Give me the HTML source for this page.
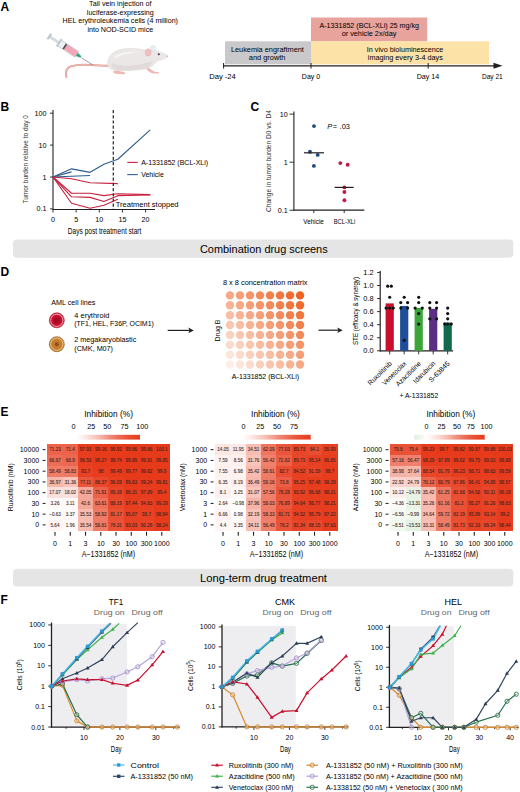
<!DOCTYPE html>
<html><head><meta charset="utf-8"><style>
html,body{margin:0;padding:0;background:#fff;}
svg{display:block;font-family:"Liberation Sans", sans-serif;}
</style></head><body>
<svg width="520" height="792" viewBox="0 0 520 792">
<rect x="0" y="0" width="520" height="792" fill="#fff"/>
<text x="0.40" y="10.50" font-size="12" font-weight="bold" fill="#000" >A</text>
<text x="120.30" y="6.20" font-size="6.8" text-anchor="middle" textLength="62.40" lengthAdjust="spacingAndGlyphs" >Tail vein injection of</text>
<text x="120.30" y="14.70" font-size="6.8" text-anchor="middle" textLength="66.90" lengthAdjust="spacingAndGlyphs" >luciferase-expressing</text>
<text x="120.30" y="23.20" font-size="6.8" text-anchor="middle" textLength="115.40" lengthAdjust="spacingAndGlyphs" >HEL erythroleukemia cells (4 million)</text>
<text x="120.30" y="31.70" font-size="6.8" text-anchor="middle" textLength="65.80" lengthAdjust="spacingAndGlyphs" >into NOD-SCID mice</text>
<g>
<path d="M109,65.6 C100,66.2 92,64.6 84,64.8 C76,65 71,65.6 68.5,67.6 C66,69.8 65.6,73.5 66.4,77" fill="none" stroke="#d99a93" stroke-width="2.1" stroke-linecap="round"/>
<path d="M109,65.6 C100,66.2 92,64.6 84,64.8 C76,65 71,65.6 68.5,67.6 C66,69.8 65.6,73.5 66.4,77" fill="none" stroke="#f0beb6" stroke-width="1.1" stroke-linecap="round"/>
<line x1="81.5" y1="57.8" x2="92.6" y2="64.8" stroke="#55606a" stroke-width="0.6"/>
<g transform="translate(49.4 36.5) rotate(33)">
<rect x="-0.8" y="-3" width="1.6" height="6" fill="#cfd6dc" stroke="#9aa4ad" stroke-width="0.4"/>
<rect x="0" y="-0.9" width="12" height="1.8" fill="#dfe4e8" stroke="#9aa4ad" stroke-width="0.4"/>
<rect x="11" y="-4.2" width="1.4" height="8.4" fill="#cfd6dc" stroke="#9aa4ad" stroke-width="0.4"/>
<rect x="12.2" y="-3.4" width="20.5" height="6.8" fill="#eef1f4" stroke="#a5aeb6" stroke-width="0.5"/>
<rect x="19" y="-3.0" width="13.5" height="6.0" fill="#f2a6b6"/>
<rect x="17.6" y="-3.0" width="1.6" height="6.0" fill="#4a4a55"/>
<path d="M32.7,-2 L37.5,-0.9 L37.5,0.9 L32.7,2 Z" fill="#2fa882"/>
</g>
<path d="M108,66 C106.5,59 111,52.5 119,50 C126,48 134,48.2 140,49.2 C143,49.7 145,50 147,50 C152,49.6 158,50.8 163,53.2 C165.6,54.4 167.6,55.4 167.8,56.3 C166.2,58.6 161.5,60 157.5,60.6 C155.5,63 153.5,65.6 150.5,67 L145,69 C138,70.2 128,70.8 118,70.4 C112,70 109,68.4 108,66 Z" fill="#ebe7e6" stroke="#d9d2d1" stroke-width="0.5"/>
<path d="M112,63 C118,66.5 132,66.5 142,64 C146,63 150,62 153,61 C152,64 150,66.5 147,68 C138,70 126,70.6 118,70.2 C113,69.6 110.5,67 112,63 Z" fill="#e0dadb"/>
<path d="M114,56 C120,52 132,51 140,52 C132,53 122,54 116,58 Z" fill="#f6f4f4"/>
<ellipse cx="153" cy="48.4" rx="2.6" ry="2.9" fill="#e4eef3" stroke="#c9dce6" stroke-width="0.4"/>
<ellipse cx="148.2" cy="52.4" rx="2.9" ry="3.6" fill="#f1c1c1" stroke="#e2a8a8" stroke-width="0.5"/>
<circle cx="158.8" cy="54.3" r="1.05" fill="#5a2a3a"/>
<circle cx="167.4" cy="56.2" r="0.7" fill="#e0a0a0"/>
<path d="M113.5,71 C116,70.5 121,71 124.5,72.4 C126,73.2 125,74.3 123,74.2 L116,73.8 C113.5,73.6 112.6,72 113.5,71 Z" fill="#efb8b0"/>
<path d="M147.5,67.5 C150,68.5 152.5,70.5 154.5,71.8 L158.8,72.2 C159.5,72.8 159,73.6 158,73.6 L153,73.6 C150.5,72.8 148,71 146.5,69.5 Z" fill="#efb8b0"/>
</g>
<rect x="225.00" y="41.30" width="86.00" height="23.00" fill="#c9c9cc" />
<rect x="311.00" y="17.50" width="116.20" height="23.80" fill="#e8a39c" />
<rect x="311.00" y="41.30" width="178.00" height="23.00" fill="#fde2a8" />
<text x="369.20" y="27.50" font-size="7.8" text-anchor="middle" textLength="99.60" lengthAdjust="spacingAndGlyphs" >A-1331852 (BCL-XLi) 25 mg/kg</text>
<text x="369.00" y="36.10" font-size="7.8" text-anchor="middle" textLength="54.70" lengthAdjust="spacingAndGlyphs" >or vehicle 2x/day</text>
<text x="267.40" y="51.70" font-size="7.8" text-anchor="middle" textLength="73.00" lengthAdjust="spacingAndGlyphs" >Leukemia engraftment</text>
<text x="267.10" y="59.60" font-size="7.8" text-anchor="middle" textLength="36.60" lengthAdjust="spacingAndGlyphs" >and growth</text>
<text x="405.10" y="51.80" font-size="7.8" text-anchor="middle" textLength="76.50" lengthAdjust="spacingAndGlyphs" >In vivo bioluminescence</text>
<text x="405.30" y="60.30" font-size="7.8" text-anchor="middle" textLength="75.00" lengthAdjust="spacingAndGlyphs" >imaging every 3-4 days</text>
<line x1="223.00" y1="65.80" x2="496.00" y2="65.80" stroke="#231f20" stroke-width="1.2" />
<path d="M493.5,62.8 L502.5,65.8 L493.5,68.8 Z" fill="#231f20"/>
<line x1="223.60" y1="63.00" x2="223.60" y2="68.60" stroke="#231f20" stroke-width="1" />
<line x1="311.00" y1="63.00" x2="311.00" y2="68.60" stroke="#231f20" stroke-width="1" />
<line x1="428.20" y1="63.00" x2="428.20" y2="68.60" stroke="#231f20" stroke-width="1" />
<text x="222.50" y="78.60" font-size="7.3" text-anchor="middle" textLength="26.50" lengthAdjust="spacingAndGlyphs" >Day -24</text>
<text x="311.00" y="78.60" font-size="7.3" text-anchor="middle" textLength="18.40" lengthAdjust="spacingAndGlyphs" >Day 0</text>
<text x="428.00" y="78.60" font-size="7.3" text-anchor="middle" textLength="22.60" lengthAdjust="spacingAndGlyphs" >Day 14</text>
<text x="492.30" y="78.60" font-size="7.3" text-anchor="middle" textLength="20.80" lengthAdjust="spacingAndGlyphs" >Day 21</text>
<text x="0.60" y="110.90" font-size="12" font-weight="bold" fill="#000" >B</text>
<line x1="53.00" y1="110.00" x2="53.00" y2="209.70" stroke="#231f20" stroke-width="1.1" />
<line x1="52.50" y1="209.50" x2="155.00" y2="209.50" stroke="#231f20" stroke-width="1.1" />
<line x1="50.00" y1="113.20" x2="53.00" y2="113.20" stroke="#231f20" stroke-width="0.9" />
<text x="46.40" y="115.70" font-size="7.2" text-anchor="end" >100</text>
<line x1="50.00" y1="145.10" x2="53.00" y2="145.10" stroke="#231f20" stroke-width="0.9" />
<text x="46.40" y="147.60" font-size="7.2" text-anchor="end" >10</text>
<line x1="50.00" y1="177.00" x2="53.00" y2="177.00" stroke="#231f20" stroke-width="0.9" />
<text x="46.40" y="179.50" font-size="7.2" text-anchor="end" >1</text>
<line x1="50.00" y1="208.90" x2="53.00" y2="208.90" stroke="#231f20" stroke-width="0.9" />
<text x="46.40" y="211.40" font-size="7.2" text-anchor="end" >0.1</text>
<line x1="53.00" y1="209.50" x2="53.00" y2="212.50" stroke="#231f20" stroke-width="0.9" />
<text x="53.00" y="221.60" font-size="7.2" text-anchor="middle" >0</text>
<line x1="76.15" y1="209.50" x2="76.15" y2="212.50" stroke="#231f20" stroke-width="0.9" />
<text x="76.15" y="221.60" font-size="7.2" text-anchor="middle" >5</text>
<line x1="99.30" y1="209.50" x2="99.30" y2="212.50" stroke="#231f20" stroke-width="0.9" />
<text x="99.30" y="221.60" font-size="7.2" text-anchor="middle" >10</text>
<line x1="122.45" y1="209.50" x2="122.45" y2="212.50" stroke="#231f20" stroke-width="0.9" />
<text x="122.45" y="221.60" font-size="7.2" text-anchor="middle" >15</text>
<line x1="145.60" y1="209.50" x2="145.60" y2="212.50" stroke="#231f20" stroke-width="0.9" />
<text x="145.60" y="221.60" font-size="7.2" text-anchor="middle" >20</text>
<text x="104.60" y="234.40" font-size="8.2" text-anchor="middle" textLength="73.50" lengthAdjust="spacingAndGlyphs" >Days post treatment start</text>
<text x="27.90" y="159.30" font-size="7.8" text-anchor="middle" textLength="88.50" lengthAdjust="spacingAndGlyphs" fill="#333" transform="rotate(-90 27.90 159.30)" >Tumor burden relative to day 0</text>
<polyline points="53.00,177.00 71.52,168.86 90.04,172.34 103.93,164.31 117.82,159.25 150.23,129.88" fill="none" stroke="#2d5d8f" stroke-width="1.1" stroke-linejoin="round" />
<polyline points="53.00,177.00 71.52,171.85" fill="none" stroke="#2d5d8f" stroke-width="1.1" stroke-linejoin="round" />
<polyline points="53.00,177.00 90.04,175.43" fill="none" stroke="#2d5d8f" stroke-width="1.1" stroke-linejoin="round" />
<polyline points="53.00,177.00 71.52,178.77 90.04,182.76 117.82,183.62" fill="none" stroke="#c8203e" stroke-width="1.1" stroke-linejoin="round" />
<polyline points="53.00,177.00 71.52,193.23 90.04,193.23 103.93,195.66 117.82,193.68 150.23,194.64" fill="none" stroke="#c8203e" stroke-width="1.1" stroke-linejoin="round" />
<polyline points="53.00,177.00 71.52,196.77 90.04,197.36 103.93,201.55 117.82,195.66 150.23,194.89" fill="none" stroke="#c8203e" stroke-width="1.1" stroke-linejoin="round" />
<polyline points="53.00,177.00 71.52,203.28 90.04,208.22 103.93,205.27 117.82,199.30" fill="none" stroke="#c8203e" stroke-width="1.1" stroke-linejoin="round" />
<line x1="113.30" y1="110.00" x2="113.30" y2="209.00" stroke="#333" stroke-width="1.3" stroke-dasharray="3.2 2"/>
<line x1="127.30" y1="162.40" x2="137.70" y2="162.40" stroke="#c8203e" stroke-width="1.1" />
<line x1="127.30" y1="174.60" x2="137.70" y2="174.60" stroke="#2d5d8f" stroke-width="1.1" />
<text x="141.20" y="164.90" font-size="7.2" textLength="66.90" lengthAdjust="spacingAndGlyphs" >A-1331852 (BCL-XLi)</text>
<text x="141.20" y="177.10" font-size="7.2" textLength="22.60" lengthAdjust="spacingAndGlyphs" >Vehicle</text>
<text x="115.80" y="207.00" font-size="7.2" textLength="62.70" lengthAdjust="spacingAndGlyphs" >Treatment stopped</text>
<text x="250.60" y="111.20" font-size="12" font-weight="bold" fill="#000" >C</text>
<line x1="293.90" y1="111.40" x2="293.90" y2="210.60" stroke="#231f20" stroke-width="1.1" />
<line x1="293.40" y1="210.10" x2="364.30" y2="210.10" stroke="#231f20" stroke-width="1.1" />
<line x1="289.50" y1="114.15" x2="293.90" y2="114.15" stroke="#231f20" stroke-width="0.9" />
<text x="287.80" y="116.65" font-size="7.2" text-anchor="end" >10</text>
<line x1="289.50" y1="162.20" x2="293.90" y2="162.20" stroke="#231f20" stroke-width="0.9" />
<text x="287.80" y="164.70" font-size="7.2" text-anchor="end" >1</text>
<line x1="289.50" y1="210.25" x2="293.90" y2="210.25" stroke="#231f20" stroke-width="0.9" />
<text x="287.80" y="212.75" font-size="7.2" text-anchor="end" >0.1</text>
<line x1="313.80" y1="210.00" x2="313.80" y2="213.00" stroke="#231f20" stroke-width="0.9" />
<line x1="344.20" y1="210.00" x2="344.20" y2="213.00" stroke="#231f20" stroke-width="0.9" />
<text x="313.60" y="224.10" font-size="8.0" text-anchor="middle" textLength="20.60" lengthAdjust="spacingAndGlyphs" >Vehicle</text>
<text x="344.50" y="224.10" font-size="8.0" text-anchor="middle" textLength="21.60" lengthAdjust="spacingAndGlyphs" >BCL-XLi</text>
<text x="271.30" y="161.00" font-size="7.8" text-anchor="middle" textLength="102.00" lengthAdjust="spacingAndGlyphs" fill="#333" transform="rotate(-90 271.30 161.00)" >Change in tumor burden D0 vs. D4</text>
<circle cx="314.00" cy="126.10" r="1.95" fill="#1f4b7d"/>
<circle cx="310.00" cy="151.70" r="1.95" fill="#1f4b7d"/>
<circle cx="317.70" cy="154.90" r="1.95" fill="#1f4b7d"/>
<circle cx="313.90" cy="165.90" r="1.95" fill="#1f4b7d"/>
<circle cx="340.30" cy="163.10" r="1.95" fill="#c41a45"/>
<circle cx="347.70" cy="164.80" r="1.95" fill="#c41a45"/>
<circle cx="344.40" cy="187.40" r="1.95" fill="#c41a45"/>
<circle cx="344.40" cy="192.00" r="1.95" fill="#c41a45"/>
<circle cx="344.40" cy="200.30" r="1.95" fill="#c41a45"/>
<line x1="304.00" y1="152.80" x2="324.00" y2="152.80" stroke="#231f20" stroke-width="1.2" />
<line x1="334.60" y1="187.40" x2="353.70" y2="187.40" stroke="#231f20" stroke-width="1.2" />
<text x="327.30" y="129.20" font-size="7.4" font-style="italic">P</text>
<text x="332.80" y="129.20" font-size="7.4" >=</text>
<text x="339.60" y="129.20" font-size="7.4" textLength="10.40" lengthAdjust="spacingAndGlyphs" >.03</text>
<rect x="13.00" y="239.60" width="500.30" height="18.20" fill="#e5e5e5" rx="4"/>
<text x="263.80" y="253.40" font-size="11.3" text-anchor="middle" textLength="127.70" lengthAdjust="spacingAndGlyphs" >Combination drug screens</text>
<rect x="13.00" y="568.70" width="500.30" height="17.80" fill="#e5e5e5" rx="4"/>
<text x="263.50" y="582.10" font-size="11.3" text-anchor="middle" textLength="127.00" lengthAdjust="spacingAndGlyphs" >Long-term drug treatment</text>
<text x="0.60" y="275.60" font-size="12" font-weight="bold" fill="#000" >D</text>
<text x="51.30" y="305.00" font-size="7.4" textLength="44.00" lengthAdjust="spacingAndGlyphs" >AML cell lines</text>
<circle cx="56.8" cy="320.3" r="7.5" fill="#d2203c" stroke="#9a1a30" stroke-width="0.6"/>
<circle cx="56.8" cy="320.3" r="6.1" fill="none" stroke="#f6a8b2" stroke-width="1.0"/>
<circle cx="56.8" cy="320.3" r="5.3" fill="#c30f2c"/>
<circle cx="56.8" cy="320.3" r="3.0" fill="#8e0a1e" opacity="0.55"/>
<circle cx="56.8" cy="344.2" r="7.5" fill="#cf8f40" stroke="#7a4a10" stroke-width="0.6"/>
<circle cx="56.8" cy="344.2" r="6.1" fill="none" stroke="#f3c282" stroke-width="0.9"/>
<circle cx="56.8" cy="344.2" r="5.3" fill="#c47c30"/>
<circle cx="56.8" cy="344.2" r="2.0" fill="#7a3a10" opacity="0.7"/>
<text x="74.30" y="317.50" font-size="7.4" textLength="35.20" lengthAdjust="spacingAndGlyphs" >4 erythroid</text>
<text x="74.30" y="326.00" font-size="7.4" textLength="79.50" lengthAdjust="spacingAndGlyphs" >(TF1, HEL, F36P, OCIM1)</text>
<text x="74.30" y="341.60" font-size="7.4" textLength="62.00" lengthAdjust="spacingAndGlyphs" >2 megakaryoblastic</text>
<text x="74.30" y="350.90" font-size="7.4" textLength="38.70" lengthAdjust="spacingAndGlyphs" >(CMK, M07)</text>
<line x1="167.70" y1="330.40" x2="190.80" y2="330.40" stroke="#231f20" stroke-width="1.2" />
<path d="M188.3,327.6 L193.8,330.4 L188.3,333.2 L189.6,330.4 Z" fill="#231f20"/>
<line x1="318.50" y1="330.20" x2="339.70" y2="330.20" stroke="#231f20" stroke-width="1.2" />
<path d="M337.2,327.4 L342.7,330.2 L337.2,333.0 L338.5,330.2 Z" fill="#231f20"/>
<text x="265.20" y="285.20" font-size="7.6" text-anchor="middle" textLength="84.60" lengthAdjust="spacingAndGlyphs" >8 x 8 concentration matrix</text>
<text x="265.50" y="379.30" font-size="7.6" text-anchor="middle" textLength="67.30" lengthAdjust="spacingAndGlyphs" >A-1331852 (BCL-XLi)</text>
<text x="220.40" y="330.50" font-size="7.6" text-anchor="middle" textLength="22.00" lengthAdjust="spacingAndGlyphs" transform="rotate(-90 220.40 330.50)" >Drug B</text>
<circle cx="230.00" cy="295.40" r="4.2" fill="#ee6222" fill-opacity="0.550"/>
<circle cx="240.01" cy="295.40" r="4.2" fill="#ee6222" fill-opacity="0.614"/>
<circle cx="250.02" cy="295.40" r="4.2" fill="#ee6222" fill-opacity="0.679"/>
<circle cx="260.03" cy="295.40" r="4.2" fill="#ee6222" fill-opacity="0.743"/>
<circle cx="270.04" cy="295.40" r="4.2" fill="#ee6222" fill-opacity="0.807"/>
<circle cx="280.05" cy="295.40" r="4.2" fill="#ee6222" fill-opacity="0.871"/>
<circle cx="290.06" cy="295.40" r="4.2" fill="#ee6222" fill-opacity="0.936"/>
<circle cx="300.07" cy="295.40" r="4.2" fill="#ee6222" fill-opacity="1.000"/>
<circle cx="230.00" cy="305.28" r="4.2" fill="#ee6222" fill-opacity="0.486"/>
<circle cx="240.01" cy="305.28" r="4.2" fill="#ee6222" fill-opacity="0.550"/>
<circle cx="250.02" cy="305.28" r="4.2" fill="#ee6222" fill-opacity="0.614"/>
<circle cx="260.03" cy="305.28" r="4.2" fill="#ee6222" fill-opacity="0.679"/>
<circle cx="270.04" cy="305.28" r="4.2" fill="#ee6222" fill-opacity="0.743"/>
<circle cx="280.05" cy="305.28" r="4.2" fill="#ee6222" fill-opacity="0.807"/>
<circle cx="290.06" cy="305.28" r="4.2" fill="#ee6222" fill-opacity="0.871"/>
<circle cx="300.07" cy="305.28" r="4.2" fill="#ee6222" fill-opacity="0.936"/>
<circle cx="230.00" cy="315.16" r="4.2" fill="#ee6222" fill-opacity="0.421"/>
<circle cx="240.01" cy="315.16" r="4.2" fill="#ee6222" fill-opacity="0.486"/>
<circle cx="250.02" cy="315.16" r="4.2" fill="#ee6222" fill-opacity="0.550"/>
<circle cx="260.03" cy="315.16" r="4.2" fill="#ee6222" fill-opacity="0.614"/>
<circle cx="270.04" cy="315.16" r="4.2" fill="#ee6222" fill-opacity="0.679"/>
<circle cx="280.05" cy="315.16" r="4.2" fill="#ee6222" fill-opacity="0.743"/>
<circle cx="290.06" cy="315.16" r="4.2" fill="#ee6222" fill-opacity="0.807"/>
<circle cx="300.07" cy="315.16" r="4.2" fill="#ee6222" fill-opacity="0.871"/>
<circle cx="230.00" cy="325.04" r="4.2" fill="#ee6222" fill-opacity="0.357"/>
<circle cx="240.01" cy="325.04" r="4.2" fill="#ee6222" fill-opacity="0.421"/>
<circle cx="250.02" cy="325.04" r="4.2" fill="#ee6222" fill-opacity="0.486"/>
<circle cx="260.03" cy="325.04" r="4.2" fill="#ee6222" fill-opacity="0.550"/>
<circle cx="270.04" cy="325.04" r="4.2" fill="#ee6222" fill-opacity="0.614"/>
<circle cx="280.05" cy="325.04" r="4.2" fill="#ee6222" fill-opacity="0.679"/>
<circle cx="290.06" cy="325.04" r="4.2" fill="#ee6222" fill-opacity="0.743"/>
<circle cx="300.07" cy="325.04" r="4.2" fill="#ee6222" fill-opacity="0.807"/>
<circle cx="230.00" cy="334.92" r="4.2" fill="#ee6222" fill-opacity="0.293"/>
<circle cx="240.01" cy="334.92" r="4.2" fill="#ee6222" fill-opacity="0.357"/>
<circle cx="250.02" cy="334.92" r="4.2" fill="#ee6222" fill-opacity="0.421"/>
<circle cx="260.03" cy="334.92" r="4.2" fill="#ee6222" fill-opacity="0.486"/>
<circle cx="270.04" cy="334.92" r="4.2" fill="#ee6222" fill-opacity="0.550"/>
<circle cx="280.05" cy="334.92" r="4.2" fill="#ee6222" fill-opacity="0.614"/>
<circle cx="290.06" cy="334.92" r="4.2" fill="#ee6222" fill-opacity="0.679"/>
<circle cx="300.07" cy="334.92" r="4.2" fill="#ee6222" fill-opacity="0.743"/>
<circle cx="230.00" cy="344.80" r="4.2" fill="#ee6222" fill-opacity="0.229"/>
<circle cx="240.01" cy="344.80" r="4.2" fill="#ee6222" fill-opacity="0.293"/>
<circle cx="250.02" cy="344.80" r="4.2" fill="#ee6222" fill-opacity="0.357"/>
<circle cx="260.03" cy="344.80" r="4.2" fill="#ee6222" fill-opacity="0.421"/>
<circle cx="270.04" cy="344.80" r="4.2" fill="#ee6222" fill-opacity="0.486"/>
<circle cx="280.05" cy="344.80" r="4.2" fill="#ee6222" fill-opacity="0.550"/>
<circle cx="290.06" cy="344.80" r="4.2" fill="#ee6222" fill-opacity="0.614"/>
<circle cx="300.07" cy="344.80" r="4.2" fill="#ee6222" fill-opacity="0.679"/>
<circle cx="230.00" cy="354.68" r="4.2" fill="#ee6222" fill-opacity="0.164"/>
<circle cx="240.01" cy="354.68" r="4.2" fill="#ee6222" fill-opacity="0.229"/>
<circle cx="250.02" cy="354.68" r="4.2" fill="#ee6222" fill-opacity="0.293"/>
<circle cx="260.03" cy="354.68" r="4.2" fill="#ee6222" fill-opacity="0.357"/>
<circle cx="270.04" cy="354.68" r="4.2" fill="#ee6222" fill-opacity="0.421"/>
<circle cx="280.05" cy="354.68" r="4.2" fill="#ee6222" fill-opacity="0.486"/>
<circle cx="290.06" cy="354.68" r="4.2" fill="#ee6222" fill-opacity="0.550"/>
<circle cx="300.07" cy="354.68" r="4.2" fill="#ee6222" fill-opacity="0.614"/>
<circle cx="230.00" cy="364.56" r="4.2" fill="#ee6222" fill-opacity="0.100"/>
<circle cx="240.01" cy="364.56" r="4.2" fill="#ee6222" fill-opacity="0.164"/>
<circle cx="250.02" cy="364.56" r="4.2" fill="#ee6222" fill-opacity="0.229"/>
<circle cx="260.03" cy="364.56" r="4.2" fill="#ee6222" fill-opacity="0.293"/>
<circle cx="270.04" cy="364.56" r="4.2" fill="#ee6222" fill-opacity="0.357"/>
<circle cx="280.05" cy="364.56" r="4.2" fill="#ee6222" fill-opacity="0.421"/>
<circle cx="290.06" cy="364.56" r="4.2" fill="#ee6222" fill-opacity="0.486"/>
<circle cx="300.07" cy="364.56" r="4.2" fill="#ee6222" fill-opacity="0.550"/>
<line x1="380.20" y1="271.00" x2="380.20" y2="351.40" stroke="#231f20" stroke-width="1.2" />
<line x1="380.00" y1="350.80" x2="453.00" y2="350.80" stroke="#231f20" stroke-width="1.2" />
<line x1="377.00" y1="350.80" x2="380.20" y2="350.80" stroke="#231f20" stroke-width="0.9" />
<text x="373.60" y="353.40" font-size="7.4" text-anchor="end" >0.0</text>
<line x1="377.00" y1="337.74" x2="380.20" y2="337.74" stroke="#231f20" stroke-width="0.9" />
<text x="373.60" y="340.34" font-size="7.4" text-anchor="end" >0.2</text>
<line x1="377.00" y1="324.68" x2="380.20" y2="324.68" stroke="#231f20" stroke-width="0.9" />
<text x="373.60" y="327.28" font-size="7.4" text-anchor="end" >0.4</text>
<line x1="377.00" y1="311.62" x2="380.20" y2="311.62" stroke="#231f20" stroke-width="0.9" />
<text x="373.60" y="314.22" font-size="7.4" text-anchor="end" >0.6</text>
<line x1="377.00" y1="298.56" x2="380.20" y2="298.56" stroke="#231f20" stroke-width="0.9" />
<text x="373.60" y="301.16" font-size="7.4" text-anchor="end" >0.8</text>
<line x1="377.00" y1="285.50" x2="380.20" y2="285.50" stroke="#231f20" stroke-width="0.9" />
<text x="373.60" y="288.10" font-size="7.4" text-anchor="end" >1.0</text>
<line x1="377.00" y1="272.44" x2="380.20" y2="272.44" stroke="#231f20" stroke-width="0.9" />
<text x="373.60" y="275.04" font-size="7.4" text-anchor="end" >1.2</text>
<rect x="385.60" y="303.39" width="8.20" height="47.41" fill="#c8102e" />
<circle cx="387.70" cy="286.15" r="1.6" fill="#111"/>
<circle cx="391.30" cy="286.15" r="1.6" fill="#111"/>
<circle cx="389.70" cy="297.25" r="1.6" fill="#111"/>
<circle cx="386.10" cy="308.03" r="1.6" fill="#111"/>
<circle cx="389.70" cy="308.03" r="1.6" fill="#111"/>
<circle cx="393.30" cy="308.03" r="1.6" fill="#111"/>
<line x1="389.70" y1="351.00" x2="389.70" y2="354.40" stroke="#231f20" stroke-width="0.9" />
<text x="392.30" y="364.00" font-size="7.0" text-anchor="end" textLength="30.80" lengthAdjust="spacingAndGlyphs" transform="rotate(-45 392.30 364.00)" >Ruxolitinib</text>
<rect x="400.10" y="305.94" width="8.20" height="44.86" fill="#1f4e9a" />
<circle cx="404.20" cy="297.25" r="1.6" fill="#111"/>
<circle cx="400.80" cy="302.61" r="1.6" fill="#111"/>
<circle cx="407.60" cy="302.61" r="1.6" fill="#111"/>
<circle cx="400.80" cy="308.03" r="1.6" fill="#111"/>
<circle cx="407.60" cy="308.03" r="1.6" fill="#111"/>
<circle cx="404.20" cy="340.35" r="1.6" fill="#111"/>
<line x1="404.20" y1="351.00" x2="404.20" y2="354.40" stroke="#231f20" stroke-width="0.9" />
<text x="406.80" y="364.00" font-size="7.0" text-anchor="end" textLength="30.80" lengthAdjust="spacingAndGlyphs" transform="rotate(-45 406.80 364.00)" >Venetoclax</text>
<rect x="414.60" y="307.83" width="8.20" height="42.97" fill="#3aa63a" />
<circle cx="418.70" cy="297.25" r="1.6" fill="#111"/>
<circle cx="418.70" cy="302.61" r="1.6" fill="#111"/>
<circle cx="415.10" cy="308.03" r="1.6" fill="#111"/>
<circle cx="422.30" cy="308.03" r="1.6" fill="#111"/>
<circle cx="418.70" cy="313.58" r="1.6" fill="#111"/>
<circle cx="418.70" cy="324.03" r="1.6" fill="#111"/>
<line x1="418.70" y1="351.00" x2="418.70" y2="354.40" stroke="#231f20" stroke-width="0.9" />
<text x="421.30" y="364.00" font-size="7.0" text-anchor="end" textLength="32.20" lengthAdjust="spacingAndGlyphs" transform="rotate(-45 421.30 364.00)" >Azacitidine</text>
<rect x="429.10" y="308.81" width="8.20" height="41.99" fill="#5b2d84" />
<circle cx="429.80" cy="302.61" r="1.6" fill="#111"/>
<circle cx="436.60" cy="302.61" r="1.6" fill="#111"/>
<circle cx="429.80" cy="308.03" r="1.6" fill="#111"/>
<circle cx="436.60" cy="308.03" r="1.6" fill="#111"/>
<circle cx="429.80" cy="318.80" r="1.6" fill="#111"/>
<circle cx="436.60" cy="318.80" r="1.6" fill="#111"/>
<line x1="433.20" y1="351.00" x2="433.20" y2="354.40" stroke="#231f20" stroke-width="0.9" />
<text x="435.80" y="364.00" font-size="7.0" text-anchor="end" textLength="28.10" lengthAdjust="spacingAndGlyphs" transform="rotate(-45 435.80 364.00)" >Idarubicin</text>
<rect x="443.60" y="322.53" width="8.20" height="28.27" fill="#0f6a4e" />
<circle cx="447.70" cy="308.03" r="1.6" fill="#111"/>
<circle cx="447.70" cy="313.58" r="1.6" fill="#111"/>
<circle cx="447.70" cy="318.80" r="1.6" fill="#111"/>
<circle cx="444.70" cy="324.03" r="1.6" fill="#111"/>
<circle cx="447.70" cy="324.03" r="1.6" fill="#111"/>
<circle cx="451.30" cy="324.03" r="1.6" fill="#111"/>
<line x1="447.70" y1="351.00" x2="447.70" y2="354.40" stroke="#231f20" stroke-width="0.9" />
<text x="450.30" y="364.00" font-size="7.0" text-anchor="end" textLength="26.50" lengthAdjust="spacingAndGlyphs" transform="rotate(-45 450.30 364.00)" >S-63845</text>
<text x="418.80" y="398.30" font-size="7.4" text-anchor="middle" textLength="38.80" lengthAdjust="spacingAndGlyphs" >+ A-1331852</text>
<text x="357.70" y="311.00" font-size="7.2" text-anchor="middle" textLength="68.00" lengthAdjust="spacingAndGlyphs" transform="rotate(-90 357.70 311.00)" >STE (efficacy &amp; synergy)</text>
<text x="0.60" y="415.80" font-size="12" font-weight="bold" fill="#000" >E</text>
<rect x="47.40" y="444.30" width="15.75" height="11.25" fill="#ec634a" shape-rendering="crispEdges"/>
<rect x="62.65" y="444.30" width="15.75" height="11.25" fill="#ec624a" shape-rendering="crispEdges"/>
<rect x="77.90" y="444.30" width="15.75" height="11.25" fill="#e73c1e" shape-rendering="crispEdges"/>
<rect x="93.15" y="444.30" width="15.75" height="11.25" fill="#e73b1c" shape-rendering="crispEdges"/>
<rect x="108.40" y="444.30" width="15.75" height="11.25" fill="#e73a1b" shape-rendering="crispEdges"/>
<rect x="123.65" y="444.30" width="15.75" height="11.25" fill="#e73a1b" shape-rendering="crispEdges"/>
<rect x="138.90" y="444.30" width="15.75" height="11.25" fill="#e73a1b" shape-rendering="crispEdges"/>
<rect x="154.15" y="444.30" width="15.75" height="11.25" fill="#e73a1b" shape-rendering="crispEdges"/>
<rect x="47.40" y="455.05" width="15.75" height="11.25" fill="#ed6c55" shape-rendering="crispEdges"/>
<rect x="62.65" y="455.05" width="15.75" height="11.25" fill="#ed6850" shape-rendering="crispEdges"/>
<rect x="77.90" y="455.05" width="15.75" height="11.25" fill="#e73e20" shape-rendering="crispEdges"/>
<rect x="93.15" y="455.05" width="15.75" height="11.25" fill="#e73b1c" shape-rendering="crispEdges"/>
<rect x="108.40" y="455.05" width="15.75" height="11.25" fill="#e73a1b" shape-rendering="crispEdges"/>
<rect x="123.65" y="455.05" width="15.75" height="11.25" fill="#e73a1b" shape-rendering="crispEdges"/>
<rect x="138.90" y="455.05" width="15.75" height="11.25" fill="#e73a1b" shape-rendering="crispEdges"/>
<rect x="154.15" y="455.05" width="15.75" height="11.25" fill="#e73a1b" shape-rendering="crispEdges"/>
<rect x="47.40" y="465.80" width="15.75" height="11.25" fill="#ef7c67" shape-rendering="crispEdges"/>
<rect x="62.65" y="465.80" width="15.75" height="11.25" fill="#ef7b67" shape-rendering="crispEdges"/>
<rect x="77.90" y="465.80" width="15.75" height="11.25" fill="#e84124" shape-rendering="crispEdges"/>
<rect x="93.15" y="465.80" width="15.75" height="11.25" fill="#e73c1e" shape-rendering="crispEdges"/>
<rect x="108.40" y="465.80" width="15.75" height="11.25" fill="#e73b1c" shape-rendering="crispEdges"/>
<rect x="123.65" y="465.80" width="15.75" height="11.25" fill="#e73a1b" shape-rendering="crispEdges"/>
<rect x="138.90" y="465.80" width="15.75" height="11.25" fill="#e73a1b" shape-rendering="crispEdges"/>
<rect x="154.15" y="465.80" width="15.75" height="11.25" fill="#e73a1b" shape-rendering="crispEdges"/>
<rect x="47.40" y="476.55" width="15.75" height="11.25" fill="#f6b7ab" shape-rendering="crispEdges"/>
<rect x="62.65" y="476.55" width="15.75" height="11.25" fill="#f8c4ba" shape-rendering="crispEdges"/>
<rect x="77.90" y="476.55" width="15.75" height="11.25" fill="#ea563b" shape-rendering="crispEdges"/>
<rect x="93.15" y="476.55" width="15.75" height="11.25" fill="#e9482b" shape-rendering="crispEdges"/>
<rect x="108.40" y="476.55" width="15.75" height="11.25" fill="#e83f20" shape-rendering="crispEdges"/>
<rect x="123.65" y="476.55" width="15.75" height="11.25" fill="#e73a1c" shape-rendering="crispEdges"/>
<rect x="138.90" y="476.55" width="15.75" height="11.25" fill="#e73b1c" shape-rendering="crispEdges"/>
<rect x="154.15" y="476.55" width="15.75" height="11.25" fill="#e73a1b" shape-rendering="crispEdges"/>
<rect x="47.40" y="487.30" width="15.75" height="11.25" fill="#fbe1dd" shape-rendering="crispEdges"/>
<rect x="62.65" y="487.30" width="15.75" height="11.25" fill="#fbdfda" shape-rendering="crispEdges"/>
<rect x="77.90" y="487.30" width="15.75" height="11.25" fill="#f4a89b" shape-rendering="crispEdges"/>
<rect x="93.15" y="487.30" width="15.75" height="11.25" fill="#ec6149" shape-rendering="crispEdges"/>
<rect x="108.40" y="487.30" width="15.75" height="11.25" fill="#e94629" shape-rendering="crispEdges"/>
<rect x="123.65" y="487.30" width="15.75" height="11.25" fill="#e73c1d" shape-rendering="crispEdges"/>
<rect x="138.90" y="487.30" width="15.75" height="11.25" fill="#e73c1e" shape-rendering="crispEdges"/>
<rect x="154.15" y="487.30" width="15.75" height="11.25" fill="#e73b1c" shape-rendering="crispEdges"/>
<rect x="47.40" y="498.05" width="15.75" height="11.25" fill="#fef9f8" shape-rendering="crispEdges"/>
<rect x="62.65" y="498.05" width="15.75" height="11.25" fill="#fefaf9" shape-rendering="crispEdges"/>
<rect x="77.90" y="498.05" width="15.75" height="11.25" fill="#f4a799" shape-rendering="crispEdges"/>
<rect x="93.15" y="498.05" width="15.75" height="11.25" fill="#ee725c" shape-rendering="crispEdges"/>
<rect x="108.40" y="498.05" width="15.75" height="11.25" fill="#e9482b" shape-rendering="crispEdges"/>
<rect x="123.65" y="498.05" width="15.75" height="11.25" fill="#e73d1f" shape-rendering="crispEdges"/>
<rect x="138.90" y="498.05" width="15.75" height="11.25" fill="#e84022" shape-rendering="crispEdges"/>
<rect x="154.15" y="498.05" width="15.75" height="11.25" fill="#e73b1c" shape-rendering="crispEdges"/>
<rect x="47.40" y="508.80" width="15.75" height="11.25" fill="#fefefe" shape-rendering="crispEdges"/>
<rect x="62.65" y="508.80" width="15.75" height="11.25" fill="#fef9f8" shape-rendering="crispEdges"/>
<rect x="77.90" y="508.80" width="15.75" height="11.25" fill="#f7bbb0" shape-rendering="crispEdges"/>
<rect x="93.15" y="508.80" width="15.75" height="11.25" fill="#ef7b66" shape-rendering="crispEdges"/>
<rect x="108.40" y="508.80" width="15.75" height="11.25" fill="#ea5034" shape-rendering="crispEdges"/>
<rect x="123.65" y="508.80" width="15.75" height="11.25" fill="#e84022" shape-rendering="crispEdges"/>
<rect x="138.90" y="508.80" width="15.75" height="11.25" fill="#e84124" shape-rendering="crispEdges"/>
<rect x="154.15" y="508.80" width="15.75" height="11.25" fill="#e73b1c" shape-rendering="crispEdges"/>
<rect x="47.40" y="519.55" width="15.75" height="11.25" fill="#fef5f4" shape-rendering="crispEdges"/>
<rect x="62.65" y="519.55" width="15.75" height="11.25" fill="#fffcfb" shape-rendering="crispEdges"/>
<rect x="77.90" y="519.55" width="15.75" height="11.25" fill="#f7bbb0" shape-rendering="crispEdges"/>
<rect x="93.15" y="519.55" width="15.75" height="11.25" fill="#ef7b67" shape-rendering="crispEdges"/>
<rect x="108.40" y="519.55" width="15.75" height="11.25" fill="#ea5338" shape-rendering="crispEdges"/>
<rect x="123.65" y="519.55" width="15.75" height="11.25" fill="#e84224" shape-rendering="crispEdges"/>
<rect x="138.90" y="519.55" width="15.75" height="11.25" fill="#e84528" shape-rendering="crispEdges"/>
<rect x="154.15" y="519.55" width="15.75" height="11.25" fill="#e73c1d" shape-rendering="crispEdges"/>
<text x="55.02" y="451.38" font-size="4.6" text-anchor="middle" fill="#3a2420" stroke="#3a2420" stroke-width="0.07">71.23</text>
<text x="70.28" y="451.38" font-size="4.6" text-anchor="middle" fill="#3a2420" stroke="#3a2420" stroke-width="0.07">71.4</text>
<text x="85.53" y="451.38" font-size="4.6" text-anchor="middle" fill="#3a2420" stroke="#3a2420" stroke-width="0.07">97.93</text>
<text x="100.78" y="451.38" font-size="4.6" text-anchor="middle" fill="#3a2420" stroke="#3a2420" stroke-width="0.07">99.16</text>
<text x="116.03" y="451.38" font-size="4.6" text-anchor="middle" fill="#3a2420" stroke="#3a2420" stroke-width="0.07">99.92</text>
<text x="131.28" y="451.38" font-size="4.6" text-anchor="middle" fill="#3a2420" stroke="#3a2420" stroke-width="0.07">99.86</text>
<text x="146.53" y="451.38" font-size="4.6" text-anchor="middle" fill="#3a2420" stroke="#3a2420" stroke-width="0.07">99.86</text>
<text x="161.78" y="451.38" font-size="4.6" text-anchor="middle" fill="#3a2420" stroke="#3a2420" stroke-width="0.07">100.1</text>
<text x="55.02" y="462.12" font-size="4.6" text-anchor="middle" fill="#3a2420" stroke="#3a2420" stroke-width="0.07">66.67</text>
<text x="70.28" y="462.12" font-size="4.6" text-anchor="middle" fill="#3a2420" stroke="#3a2420" stroke-width="0.07">68.9</text>
<text x="85.53" y="462.12" font-size="4.6" text-anchor="middle" fill="#3a2420" stroke="#3a2420" stroke-width="0.07">96.56</text>
<text x="100.78" y="462.12" font-size="4.6" text-anchor="middle" fill="#3a2420" stroke="#3a2420" stroke-width="0.07">99.27</text>
<text x="116.03" y="462.12" font-size="4.6" text-anchor="middle" fill="#3a2420" stroke="#3a2420" stroke-width="0.07">99.74</text>
<text x="131.28" y="462.12" font-size="4.6" text-anchor="middle" fill="#3a2420" stroke="#3a2420" stroke-width="0.07">99.89</text>
<text x="146.53" y="462.12" font-size="4.6" text-anchor="middle" fill="#3a2420" stroke="#3a2420" stroke-width="0.07">99.91</text>
<text x="161.78" y="462.12" font-size="4.6" text-anchor="middle" fill="#3a2420" stroke="#3a2420" stroke-width="0.07">99.85</text>
<text x="55.02" y="472.88" font-size="4.6" text-anchor="middle" fill="#3a2420" stroke="#3a2420" stroke-width="0.07">58.49</text>
<text x="70.28" y="472.88" font-size="4.6" text-anchor="middle" fill="#3a2420" stroke="#3a2420" stroke-width="0.07">58.83</text>
<text x="85.53" y="472.88" font-size="4.6" text-anchor="middle" fill="#3a2420" stroke="#3a2420" stroke-width="0.07">93.7</text>
<text x="100.78" y="472.88" font-size="4.6" text-anchor="middle" fill="#3a2420" stroke="#3a2420" stroke-width="0.07">98</text>
<text x="116.03" y="472.88" font-size="4.6" text-anchor="middle" fill="#3a2420" stroke="#3a2420" stroke-width="0.07">99.49</text>
<text x="131.28" y="472.88" font-size="4.6" text-anchor="middle" fill="#3a2420" stroke="#3a2420" stroke-width="0.07">99.77</text>
<text x="146.53" y="472.88" font-size="4.6" text-anchor="middle" fill="#3a2420" stroke="#3a2420" stroke-width="0.07">99.82</text>
<text x="161.78" y="472.88" font-size="4.6" text-anchor="middle" fill="#3a2420" stroke="#3a2420" stroke-width="0.07">99.9</text>
<text x="55.02" y="483.62" font-size="4.6" text-anchor="middle" fill="#3a2420" stroke="#3a2420" stroke-width="0.07">36.97</text>
<text x="70.28" y="483.62" font-size="4.6" text-anchor="middle" fill="#3a2420" stroke="#3a2420" stroke-width="0.07">31.36</text>
<text x="85.53" y="483.62" font-size="4.6" text-anchor="middle" fill="#3a2420" stroke="#3a2420" stroke-width="0.07">77.11</text>
<text x="100.78" y="483.62" font-size="4.6" text-anchor="middle" fill="#3a2420" stroke="#3a2420" stroke-width="0.07">88.37</text>
<text x="116.03" y="483.62" font-size="4.6" text-anchor="middle" fill="#3a2420" stroke="#3a2420" stroke-width="0.07">96.09</text>
<text x="131.28" y="483.62" font-size="4.6" text-anchor="middle" fill="#3a2420" stroke="#3a2420" stroke-width="0.07">99.63</text>
<text x="146.53" y="483.62" font-size="4.6" text-anchor="middle" fill="#3a2420" stroke="#3a2420" stroke-width="0.07">99.24</text>
<text x="161.78" y="483.62" font-size="4.6" text-anchor="middle" fill="#3a2420" stroke="#3a2420" stroke-width="0.07">99.81</text>
<text x="55.02" y="494.38" font-size="4.6" text-anchor="middle" fill="#3a2420" stroke="#3a2420" stroke-width="0.07">17.07</text>
<text x="70.28" y="494.38" font-size="4.6" text-anchor="middle" fill="#3a2420" stroke="#3a2420" stroke-width="0.07">18.02</text>
<text x="85.53" y="494.38" font-size="4.6" text-anchor="middle" fill="#3a2420" stroke="#3a2420" stroke-width="0.07">42.05</text>
<text x="100.78" y="494.38" font-size="4.6" text-anchor="middle" fill="#3a2420" stroke="#3a2420" stroke-width="0.07">71.91</text>
<text x="116.03" y="494.38" font-size="4.6" text-anchor="middle" fill="#3a2420" stroke="#3a2420" stroke-width="0.07">89.39</text>
<text x="131.28" y="494.38" font-size="4.6" text-anchor="middle" fill="#3a2420" stroke="#3a2420" stroke-width="0.07">98.31</text>
<text x="146.53" y="494.38" font-size="4.6" text-anchor="middle" fill="#3a2420" stroke="#3a2420" stroke-width="0.07">97.89</text>
<text x="161.78" y="494.38" font-size="4.6" text-anchor="middle" fill="#3a2420" stroke="#3a2420" stroke-width="0.07">99.4</text>
<text x="55.02" y="505.12" font-size="4.6" text-anchor="middle" fill="#3a2420" stroke="#3a2420" stroke-width="0.07">3.26</text>
<text x="70.28" y="505.12" font-size="4.6" text-anchor="middle" fill="#3a2420" stroke="#3a2420" stroke-width="0.07">3.11</text>
<text x="85.53" y="505.12" font-size="4.6" text-anchor="middle" fill="#3a2420" stroke="#3a2420" stroke-width="0.07">42.6</text>
<text x="100.78" y="505.12" font-size="4.6" text-anchor="middle" fill="#3a2420" stroke="#3a2420" stroke-width="0.07">63.61</text>
<text x="116.03" y="505.12" font-size="4.6" text-anchor="middle" fill="#3a2420" stroke="#3a2420" stroke-width="0.07">88.19</text>
<text x="131.28" y="505.12" font-size="4.6" text-anchor="middle" fill="#3a2420" stroke="#3a2420" stroke-width="0.07">97.44</text>
<text x="146.53" y="505.12" font-size="4.6" text-anchor="middle" fill="#3a2420" stroke="#3a2420" stroke-width="0.07">94.83</text>
<text x="161.78" y="505.12" font-size="4.6" text-anchor="middle" fill="#3a2420" stroke="#3a2420" stroke-width="0.07">99.19</text>
<text x="55.02" y="515.88" font-size="4.6" text-anchor="middle" fill="#3a2420" stroke="#3a2420" stroke-width="0.07">−0.63</text>
<text x="70.28" y="515.88" font-size="4.6" text-anchor="middle" fill="#3a2420" stroke="#3a2420" stroke-width="0.07">3.37</text>
<text x="85.53" y="515.88" font-size="4.6" text-anchor="middle" fill="#3a2420" stroke="#3a2420" stroke-width="0.07">35.53</text>
<text x="100.78" y="515.88" font-size="4.6" text-anchor="middle" fill="#3a2420" stroke="#3a2420" stroke-width="0.07">58.92</text>
<text x="116.03" y="515.88" font-size="4.6" text-anchor="middle" fill="#3a2420" stroke="#3a2420" stroke-width="0.07">81.17</text>
<text x="131.28" y="515.88" font-size="4.6" text-anchor="middle" fill="#3a2420" stroke="#3a2420" stroke-width="0.07">95.07</text>
<text x="146.53" y="515.88" font-size="4.6" text-anchor="middle" fill="#3a2420" stroke="#3a2420" stroke-width="0.07">93.7</text>
<text x="161.78" y="515.88" font-size="4.6" text-anchor="middle" fill="#3a2420" stroke="#3a2420" stroke-width="0.07">98.94</text>
<text x="55.02" y="526.62" font-size="4.6" text-anchor="middle" fill="#3a2420" stroke="#3a2420" stroke-width="0.07">5.64</text>
<text x="70.28" y="526.62" font-size="4.6" text-anchor="middle" fill="#3a2420" stroke="#3a2420" stroke-width="0.07">1.96</text>
<text x="85.53" y="526.62" font-size="4.6" text-anchor="middle" fill="#3a2420" stroke="#3a2420" stroke-width="0.07">35.54</text>
<text x="100.78" y="526.62" font-size="4.6" text-anchor="middle" fill="#3a2420" stroke="#3a2420" stroke-width="0.07">58.81</text>
<text x="116.03" y="526.62" font-size="4.6" text-anchor="middle" fill="#3a2420" stroke="#3a2420" stroke-width="0.07">78.31</text>
<text x="131.28" y="526.62" font-size="4.6" text-anchor="middle" fill="#3a2420" stroke="#3a2420" stroke-width="0.07">93.03</text>
<text x="146.53" y="526.62" font-size="4.6" text-anchor="middle" fill="#3a2420" stroke="#3a2420" stroke-width="0.07">90.26</text>
<text x="161.78" y="526.62" font-size="4.6" text-anchor="middle" fill="#3a2420" stroke="#3a2420" stroke-width="0.07">98.24</text>
<text x="39.20" y="452.18" font-size="7.0" text-anchor="end" >10000</text>
<line x1="42.60" y1="449.68" x2="45.60" y2="449.68" stroke="#231f20" stroke-width="1.0" />
<text x="39.20" y="462.93" font-size="7.0" text-anchor="end" >3000</text>
<line x1="42.60" y1="460.43" x2="45.60" y2="460.43" stroke="#231f20" stroke-width="1.0" />
<text x="39.20" y="473.68" font-size="7.0" text-anchor="end" >1000</text>
<line x1="42.60" y1="471.18" x2="45.60" y2="471.18" stroke="#231f20" stroke-width="1.0" />
<text x="39.20" y="484.43" font-size="7.0" text-anchor="end" >300</text>
<line x1="42.60" y1="481.93" x2="45.60" y2="481.93" stroke="#231f20" stroke-width="1.0" />
<text x="39.20" y="495.18" font-size="7.0" text-anchor="end" >100</text>
<line x1="42.60" y1="492.68" x2="45.60" y2="492.68" stroke="#231f20" stroke-width="1.0" />
<text x="39.20" y="505.93" font-size="7.0" text-anchor="end" >30</text>
<line x1="42.60" y1="503.43" x2="45.60" y2="503.43" stroke="#231f20" stroke-width="1.0" />
<text x="39.20" y="516.67" font-size="7.0" text-anchor="end" >10</text>
<line x1="42.60" y1="514.17" x2="45.60" y2="514.17" stroke="#231f20" stroke-width="1.0" />
<text x="39.20" y="527.42" font-size="7.0" text-anchor="end" >0</text>
<line x1="42.60" y1="524.92" x2="45.60" y2="524.92" stroke="#231f20" stroke-width="1.0" />
<line x1="55.02" y1="531.90" x2="55.02" y2="535.70" stroke="#231f20" stroke-width="1.1" />
<text x="55.02" y="545.90" font-size="7.0" text-anchor="middle" >0</text>
<line x1="70.28" y1="531.90" x2="70.28" y2="535.70" stroke="#231f20" stroke-width="1.1" />
<text x="70.28" y="545.90" font-size="7.0" text-anchor="middle" >1</text>
<line x1="85.53" y1="531.90" x2="85.53" y2="535.70" stroke="#231f20" stroke-width="1.1" />
<text x="85.53" y="545.90" font-size="7.0" text-anchor="middle" >3</text>
<line x1="100.78" y1="531.90" x2="100.78" y2="535.70" stroke="#231f20" stroke-width="1.1" />
<text x="100.78" y="545.90" font-size="7.0" text-anchor="middle" >10</text>
<line x1="116.03" y1="531.90" x2="116.03" y2="535.70" stroke="#231f20" stroke-width="1.1" />
<text x="116.03" y="545.90" font-size="7.0" text-anchor="middle" >30</text>
<line x1="131.28" y1="531.90" x2="131.28" y2="535.70" stroke="#231f20" stroke-width="1.1" />
<text x="131.28" y="545.90" font-size="7.0" text-anchor="middle" >100</text>
<line x1="146.53" y1="531.90" x2="146.53" y2="535.70" stroke="#231f20" stroke-width="1.1" />
<text x="146.53" y="545.90" font-size="7.0" text-anchor="middle" >300</text>
<line x1="161.78" y1="531.90" x2="161.78" y2="535.70" stroke="#231f20" stroke-width="1.1" />
<text x="161.78" y="545.90" font-size="7.0" text-anchor="middle" >1000</text>
<text x="108.40" y="557.30" font-size="8.3" text-anchor="middle" textLength="53.50" lengthAdjust="spacingAndGlyphs" >A−1331852 (nM)</text>
<text x="12.60" y="487.30" font-size="7.8" text-anchor="middle" textLength="48.00" lengthAdjust="spacingAndGlyphs" transform="rotate(-90 12.60 487.30)" >Ruxolitinib (nM)</text>
<defs><linearGradient id="g47"><stop offset="0.000" stop-color="#ffffff"/><stop offset="0.100" stop-color="#fdeeeb"/><stop offset="0.200" stop-color="#fbdbd6"/><stop offset="0.300" stop-color="#f8c6be"/><stop offset="0.400" stop-color="#f5aea1"/><stop offset="0.500" stop-color="#f29281"/><stop offset="0.600" stop-color="#ef7964"/><stop offset="0.700" stop-color="#ec654d"/><stop offset="0.800" stop-color="#ea5136"/><stop offset="0.900" stop-color="#e84629"/><stop offset="1.000" stop-color="#e73a1b"/></linearGradient></defs>
<rect x="76.40" y="434.80" width="63.60" height="4.80" fill="url(#g47)" />
<text x="73.50" y="429.20" font-size="7.2" text-anchor="middle" >0</text>
<text x="91.20" y="429.20" font-size="7.2" text-anchor="middle" >25</text>
<text x="107.20" y="429.20" font-size="7.2" text-anchor="middle" >50</text>
<text x="124.40" y="429.20" font-size="7.2" text-anchor="middle" >75</text>
<text x="142.20" y="429.20" font-size="7.2" text-anchor="middle" >100</text>
<text x="108.60" y="417.10" font-size="8.2" text-anchor="middle" textLength="48.80" lengthAdjust="spacingAndGlyphs" >Inhibition (%)</text>
<rect x="215.40" y="444.30" width="15.75" height="11.25" fill="#fce7e3" shape-rendering="crispEdges"/>
<rect x="230.65" y="444.30" width="15.75" height="11.25" fill="#fceae7" shape-rendering="crispEdges"/>
<rect x="245.90" y="444.30" width="15.75" height="11.25" fill="#f7bdb3" shape-rendering="crispEdges"/>
<rect x="261.15" y="444.30" width="15.75" height="11.25" fill="#ee755f" shape-rendering="crispEdges"/>
<rect x="276.40" y="444.30" width="15.75" height="11.25" fill="#ea563b" shape-rendering="crispEdges"/>
<rect x="291.65" y="444.30" width="15.75" height="11.25" fill="#e84629" shape-rendering="crispEdges"/>
<rect x="306.90" y="444.30" width="15.75" height="11.25" fill="#e94d30" shape-rendering="crispEdges"/>
<rect x="322.15" y="444.30" width="15.75" height="11.25" fill="#e83f20" shape-rendering="crispEdges"/>
<rect x="215.40" y="455.05" width="15.75" height="11.25" fill="#fdf2f0" shape-rendering="crispEdges"/>
<rect x="230.65" y="455.05" width="15.75" height="11.25" fill="#fdf0ee" shape-rendering="crispEdges"/>
<rect x="245.90" y="455.05" width="15.75" height="11.25" fill="#f8c3b9" shape-rendering="crispEdges"/>
<rect x="261.15" y="455.05" width="15.75" height="11.25" fill="#f0816d" shape-rendering="crispEdges"/>
<rect x="276.40" y="455.05" width="15.75" height="11.25" fill="#ec6047" shape-rendering="crispEdges"/>
<rect x="291.65" y="455.05" width="15.75" height="11.25" fill="#e84629" shape-rendering="crispEdges"/>
<rect x="306.90" y="455.05" width="15.75" height="11.25" fill="#e84022" shape-rendering="crispEdges"/>
<rect x="322.15" y="455.05" width="15.75" height="11.25" fill="#e73e20" shape-rendering="crispEdges"/>
<rect x="215.40" y="465.80" width="15.75" height="11.25" fill="#fdf2f0" shape-rendering="crispEdges"/>
<rect x="230.65" y="465.80" width="15.75" height="11.25" fill="#fef3f1" shape-rendering="crispEdges"/>
<rect x="245.90" y="465.80" width="15.75" height="11.25" fill="#f7bbb0" shape-rendering="crispEdges"/>
<rect x="261.15" y="465.80" width="15.75" height="11.25" fill="#ef7c67" shape-rendering="crispEdges"/>
<rect x="276.40" y="465.80" width="15.75" height="11.25" fill="#e94e32" shape-rendering="crispEdges"/>
<rect x="291.65" y="465.80" width="15.75" height="11.25" fill="#e84022" shape-rendering="crispEdges"/>
<rect x="306.90" y="465.80" width="15.75" height="11.25" fill="#e84426" shape-rendering="crispEdges"/>
<rect x="322.15" y="465.80" width="15.75" height="11.25" fill="#e73c1d" shape-rendering="crispEdges"/>
<rect x="215.40" y="476.55" width="15.75" height="11.25" fill="#fef4f2" shape-rendering="crispEdges"/>
<rect x="230.65" y="476.55" width="15.75" height="11.25" fill="#fdf1ef" shape-rendering="crispEdges"/>
<rect x="245.90" y="476.55" width="15.75" height="11.25" fill="#f6b8ad" shape-rendering="crispEdges"/>
<rect x="261.15" y="476.55" width="15.75" height="11.25" fill="#ef7b66" shape-rendering="crispEdges"/>
<rect x="276.40" y="476.55" width="15.75" height="11.25" fill="#eb5d44" shape-rendering="crispEdges"/>
<rect x="291.65" y="476.55" width="15.75" height="11.25" fill="#e84021" shape-rendering="crispEdges"/>
<rect x="306.90" y="476.55" width="15.75" height="11.25" fill="#e73d1e" shape-rendering="crispEdges"/>
<rect x="322.15" y="476.55" width="15.75" height="11.25" fill="#e73c1d" shape-rendering="crispEdges"/>
<rect x="215.40" y="487.30" width="15.75" height="11.25" fill="#fdf1ef" shape-rendering="crispEdges"/>
<rect x="230.65" y="487.30" width="15.75" height="11.25" fill="#fef9f8" shape-rendering="crispEdges"/>
<rect x="245.90" y="487.30" width="15.75" height="11.25" fill="#f8c4bb" shape-rendering="crispEdges"/>
<rect x="261.15" y="487.30" width="15.75" height="11.25" fill="#ef7e6a" shape-rendering="crispEdges"/>
<rect x="276.40" y="487.30" width="15.75" height="11.25" fill="#ea5338" shape-rendering="crispEdges"/>
<rect x="291.65" y="487.30" width="15.75" height="11.25" fill="#e84123" shape-rendering="crispEdges"/>
<rect x="306.90" y="487.30" width="15.75" height="11.25" fill="#e73e20" shape-rendering="crispEdges"/>
<rect x="322.15" y="487.30" width="15.75" height="11.25" fill="#e73c1d" shape-rendering="crispEdges"/>
<rect x="215.40" y="498.05" width="15.75" height="11.25" fill="#fefafa" shape-rendering="crispEdges"/>
<rect x="230.65" y="498.05" width="15.75" height="11.25" fill="#fdfefd" shape-rendering="crispEdges"/>
<rect x="245.90" y="498.05" width="15.75" height="11.25" fill="#f6b4a8" shape-rendering="crispEdges"/>
<rect x="261.15" y="498.05" width="15.75" height="11.25" fill="#ef7d68" shape-rendering="crispEdges"/>
<rect x="276.40" y="498.05" width="15.75" height="11.25" fill="#ea563c" shape-rendering="crispEdges"/>
<rect x="291.65" y="498.05" width="15.75" height="11.25" fill="#e84022" shape-rendering="crispEdges"/>
<rect x="306.90" y="498.05" width="15.75" height="11.25" fill="#e73e1f" shape-rendering="crispEdges"/>
<rect x="322.15" y="498.05" width="15.75" height="11.25" fill="#e73c1d" shape-rendering="crispEdges"/>
<rect x="215.40" y="508.80" width="15.75" height="11.25" fill="#fef3f2" shape-rendering="crispEdges"/>
<rect x="230.65" y="508.80" width="15.75" height="11.25" fill="#fffdfd" shape-rendering="crispEdges"/>
<rect x="245.90" y="508.80" width="15.75" height="11.25" fill="#f8c2b8" shape-rendering="crispEdges"/>
<rect x="261.15" y="508.80" width="15.75" height="11.25" fill="#ef7c68" shape-rendering="crispEdges"/>
<rect x="276.40" y="508.80" width="15.75" height="11.25" fill="#ea4f34" shape-rendering="crispEdges"/>
<rect x="291.65" y="508.80" width="15.75" height="11.25" fill="#e84022" shape-rendering="crispEdges"/>
<rect x="306.90" y="508.80" width="15.75" height="11.25" fill="#e83f21" shape-rendering="crispEdges"/>
<rect x="322.15" y="508.80" width="15.75" height="11.25" fill="#e73d1f" shape-rendering="crispEdges"/>
<rect x="215.40" y="519.55" width="15.75" height="11.25" fill="#fef7f6" shape-rendering="crispEdges"/>
<rect x="230.65" y="519.55" width="15.75" height="11.25" fill="#fef9f8" shape-rendering="crispEdges"/>
<rect x="245.90" y="519.55" width="15.75" height="11.25" fill="#f7beb4" shape-rendering="crispEdges"/>
<rect x="261.15" y="519.55" width="15.75" height="11.25" fill="#f0806c" shape-rendering="crispEdges"/>
<rect x="276.40" y="519.55" width="15.75" height="11.25" fill="#ea5338" shape-rendering="crispEdges"/>
<rect x="291.65" y="519.55" width="15.75" height="11.25" fill="#e84427" shape-rendering="crispEdges"/>
<rect x="306.90" y="519.55" width="15.75" height="11.25" fill="#e9482b" shape-rendering="crispEdges"/>
<rect x="322.15" y="519.55" width="15.75" height="11.25" fill="#e73d1e" shape-rendering="crispEdges"/>
<text x="223.03" y="451.38" font-size="4.6" text-anchor="middle" fill="#3a2420" stroke="#3a2420" stroke-width="0.07">14.05</text>
<text x="238.28" y="451.38" font-size="4.6" text-anchor="middle" fill="#3a2420" stroke="#3a2420" stroke-width="0.07">11.95</text>
<text x="253.53" y="451.38" font-size="4.6" text-anchor="middle" fill="#3a2420" stroke="#3a2420" stroke-width="0.07">34.51</text>
<text x="268.77" y="451.38" font-size="4.6" text-anchor="middle" fill="#3a2420" stroke="#3a2420" stroke-width="0.07">62.09</text>
<text x="284.02" y="451.38" font-size="4.6" text-anchor="middle" fill="#3a2420" stroke="#3a2420" stroke-width="0.07">77.03</text>
<text x="299.27" y="451.38" font-size="4.6" text-anchor="middle" fill="#3a2420" stroke="#3a2420" stroke-width="0.07">89.73</text>
<text x="314.52" y="451.38" font-size="4.6" text-anchor="middle" fill="#3a2420" stroke="#3a2420" stroke-width="0.07">84.1</text>
<text x="329.77" y="451.38" font-size="4.6" text-anchor="middle" fill="#3a2420" stroke="#3a2420" stroke-width="0.07">95.99</text>
<text x="223.03" y="462.12" font-size="4.6" text-anchor="middle" fill="#3a2420" stroke="#3a2420" stroke-width="0.07">7.59</text>
<text x="238.28" y="462.12" font-size="4.6" text-anchor="middle" fill="#3a2420" stroke="#3a2420" stroke-width="0.07">8.56</text>
<text x="253.53" y="462.12" font-size="4.6" text-anchor="middle" fill="#3a2420" stroke="#3a2420" stroke-width="0.07">31.76</text>
<text x="268.77" y="462.12" font-size="4.6" text-anchor="middle" fill="#3a2420" stroke="#3a2420" stroke-width="0.07">56.42</text>
<text x="284.02" y="462.12" font-size="4.6" text-anchor="middle" fill="#3a2420" stroke="#3a2420" stroke-width="0.07">72.62</text>
<text x="299.27" y="462.12" font-size="4.6" text-anchor="middle" fill="#3a2420" stroke="#3a2420" stroke-width="0.07">89.73</text>
<text x="314.52" y="462.12" font-size="4.6" text-anchor="middle" fill="#3a2420" stroke="#3a2420" stroke-width="0.07">95.14</text>
<text x="329.77" y="462.12" font-size="4.6" text-anchor="middle" fill="#3a2420" stroke="#3a2420" stroke-width="0.07">96.65</text>
<text x="223.03" y="472.88" font-size="4.6" text-anchor="middle" fill="#3a2420" stroke="#3a2420" stroke-width="0.07">7.55</text>
<text x="238.28" y="472.88" font-size="4.6" text-anchor="middle" fill="#3a2420" stroke="#3a2420" stroke-width="0.07">6.98</text>
<text x="253.53" y="472.88" font-size="4.6" text-anchor="middle" fill="#3a2420" stroke="#3a2420" stroke-width="0.07">35.42</text>
<text x="268.77" y="472.88" font-size="4.6" text-anchor="middle" fill="#3a2420" stroke="#3a2420" stroke-width="0.07">58.61</text>
<text x="284.02" y="472.88" font-size="4.6" text-anchor="middle" fill="#3a2420" stroke="#3a2420" stroke-width="0.07">82.7</text>
<text x="299.27" y="472.88" font-size="4.6" text-anchor="middle" fill="#3a2420" stroke="#3a2420" stroke-width="0.07">94.52</text>
<text x="314.52" y="472.88" font-size="4.6" text-anchor="middle" fill="#3a2420" stroke="#3a2420" stroke-width="0.07">91.59</text>
<text x="329.77" y="472.88" font-size="4.6" text-anchor="middle" fill="#3a2420" stroke="#3a2420" stroke-width="0.07">98.7</text>
<text x="223.03" y="483.62" font-size="4.6" text-anchor="middle" fill="#3a2420" stroke="#3a2420" stroke-width="0.07">6.35</text>
<text x="238.28" y="483.62" font-size="4.6" text-anchor="middle" fill="#3a2420" stroke="#3a2420" stroke-width="0.07">8.19</text>
<text x="253.53" y="483.62" font-size="4.6" text-anchor="middle" fill="#3a2420" stroke="#3a2420" stroke-width="0.07">36.49</text>
<text x="268.77" y="483.62" font-size="4.6" text-anchor="middle" fill="#3a2420" stroke="#3a2420" stroke-width="0.07">59.16</text>
<text x="284.02" y="483.62" font-size="4.6" text-anchor="middle" fill="#3a2420" stroke="#3a2420" stroke-width="0.07">73.8</text>
<text x="299.27" y="483.62" font-size="4.6" text-anchor="middle" fill="#3a2420" stroke="#3a2420" stroke-width="0.07">95.25</text>
<text x="314.52" y="483.62" font-size="4.6" text-anchor="middle" fill="#3a2420" stroke="#3a2420" stroke-width="0.07">97.48</text>
<text x="329.77" y="483.62" font-size="4.6" text-anchor="middle" fill="#3a2420" stroke="#3a2420" stroke-width="0.07">98.29</text>
<text x="223.03" y="494.38" font-size="4.6" text-anchor="middle" fill="#3a2420" stroke="#3a2420" stroke-width="0.07">8.1</text>
<text x="238.28" y="494.38" font-size="4.6" text-anchor="middle" fill="#3a2420" stroke="#3a2420" stroke-width="0.07">3.25</text>
<text x="253.53" y="494.38" font-size="4.6" text-anchor="middle" fill="#3a2420" stroke="#3a2420" stroke-width="0.07">31.07</text>
<text x="268.77" y="494.38" font-size="4.6" text-anchor="middle" fill="#3a2420" stroke="#3a2420" stroke-width="0.07">57.56</text>
<text x="284.02" y="494.38" font-size="4.6" text-anchor="middle" fill="#3a2420" stroke="#3a2420" stroke-width="0.07">78.28</text>
<text x="299.27" y="494.38" font-size="4.6" text-anchor="middle" fill="#3a2420" stroke="#3a2420" stroke-width="0.07">93.92</text>
<text x="314.52" y="494.38" font-size="4.6" text-anchor="middle" fill="#3a2420" stroke="#3a2420" stroke-width="0.07">96.68</text>
<text x="329.77" y="494.38" font-size="4.6" text-anchor="middle" fill="#3a2420" stroke="#3a2420" stroke-width="0.07">98.21</text>
<text x="223.03" y="505.12" font-size="4.6" text-anchor="middle" fill="#3a2420" stroke="#3a2420" stroke-width="0.07">2.64</text>
<text x="238.28" y="505.12" font-size="4.6" text-anchor="middle" fill="#3a2420" stroke="#3a2420" stroke-width="0.07">−0.98</text>
<text x="253.53" y="505.12" font-size="4.6" text-anchor="middle" fill="#3a2420" stroke="#3a2420" stroke-width="0.07">37.96</text>
<text x="268.77" y="505.12" font-size="4.6" text-anchor="middle" fill="#3a2420" stroke="#3a2420" stroke-width="0.07">58.03</text>
<text x="284.02" y="505.12" font-size="4.6" text-anchor="middle" fill="#3a2420" stroke="#3a2420" stroke-width="0.07">76.89</text>
<text x="299.27" y="505.12" font-size="4.6" text-anchor="middle" fill="#3a2420" stroke="#3a2420" stroke-width="0.07">94.64</text>
<text x="314.52" y="505.12" font-size="4.6" text-anchor="middle" fill="#3a2420" stroke="#3a2420" stroke-width="0.07">96.77</text>
<text x="329.77" y="505.12" font-size="4.6" text-anchor="middle" fill="#3a2420" stroke="#3a2420" stroke-width="0.07">98.21</text>
<text x="223.03" y="515.88" font-size="4.6" text-anchor="middle" fill="#3a2420" stroke="#3a2420" stroke-width="0.07">6.66</text>
<text x="238.28" y="515.88" font-size="4.6" text-anchor="middle" fill="#3a2420" stroke="#3a2420" stroke-width="0.07">0.98</text>
<text x="253.53" y="515.88" font-size="4.6" text-anchor="middle" fill="#3a2420" stroke="#3a2420" stroke-width="0.07">32.19</text>
<text x="268.77" y="515.88" font-size="4.6" text-anchor="middle" fill="#3a2420" stroke="#3a2420" stroke-width="0.07">58.33</text>
<text x="284.02" y="515.88" font-size="4.6" text-anchor="middle" fill="#3a2420" stroke="#3a2420" stroke-width="0.07">81.71</text>
<text x="299.27" y="515.88" font-size="4.6" text-anchor="middle" fill="#3a2420" stroke="#3a2420" stroke-width="0.07">94.52</text>
<text x="314.52" y="515.88" font-size="4.6" text-anchor="middle" fill="#3a2420" stroke="#3a2420" stroke-width="0.07">95.79</text>
<text x="329.77" y="515.88" font-size="4.6" text-anchor="middle" fill="#3a2420" stroke="#3a2420" stroke-width="0.07">97.22</text>
<text x="223.03" y="526.62" font-size="4.6" text-anchor="middle" fill="#3a2420" stroke="#3a2420" stroke-width="0.07">4.4</text>
<text x="238.28" y="526.62" font-size="4.6" text-anchor="middle" fill="#3a2420" stroke="#3a2420" stroke-width="0.07">3.35</text>
<text x="253.53" y="526.62" font-size="4.6" text-anchor="middle" fill="#3a2420" stroke="#3a2420" stroke-width="0.07">34.11</text>
<text x="268.77" y="526.62" font-size="4.6" text-anchor="middle" fill="#3a2420" stroke="#3a2420" stroke-width="0.07">56.49</text>
<text x="284.02" y="526.62" font-size="4.6" text-anchor="middle" fill="#3a2420" stroke="#3a2420" stroke-width="0.07">78.2</text>
<text x="299.27" y="526.62" font-size="4.6" text-anchor="middle" fill="#3a2420" stroke="#3a2420" stroke-width="0.07">91.34</text>
<text x="314.52" y="526.62" font-size="4.6" text-anchor="middle" fill="#3a2420" stroke="#3a2420" stroke-width="0.07">88.15</text>
<text x="329.77" y="526.62" font-size="4.6" text-anchor="middle" fill="#3a2420" stroke="#3a2420" stroke-width="0.07">97.63</text>
<text x="207.20" y="452.18" font-size="7.0" text-anchor="end" >1000</text>
<line x1="210.60" y1="449.68" x2="213.60" y2="449.68" stroke="#231f20" stroke-width="1.0" />
<text x="207.20" y="462.93" font-size="7.0" text-anchor="end" >300</text>
<line x1="210.60" y1="460.43" x2="213.60" y2="460.43" stroke="#231f20" stroke-width="1.0" />
<text x="207.20" y="473.68" font-size="7.0" text-anchor="end" >100</text>
<line x1="210.60" y1="471.18" x2="213.60" y2="471.18" stroke="#231f20" stroke-width="1.0" />
<text x="207.20" y="484.43" font-size="7.0" text-anchor="end" >30</text>
<line x1="210.60" y1="481.93" x2="213.60" y2="481.93" stroke="#231f20" stroke-width="1.0" />
<text x="207.20" y="495.18" font-size="7.0" text-anchor="end" >10</text>
<line x1="210.60" y1="492.68" x2="213.60" y2="492.68" stroke="#231f20" stroke-width="1.0" />
<text x="207.20" y="505.93" font-size="7.0" text-anchor="end" >3</text>
<line x1="210.60" y1="503.43" x2="213.60" y2="503.43" stroke="#231f20" stroke-width="1.0" />
<text x="207.20" y="516.67" font-size="7.0" text-anchor="end" >1</text>
<line x1="210.60" y1="514.17" x2="213.60" y2="514.17" stroke="#231f20" stroke-width="1.0" />
<text x="207.20" y="527.42" font-size="7.0" text-anchor="end" >0</text>
<line x1="210.60" y1="524.92" x2="213.60" y2="524.92" stroke="#231f20" stroke-width="1.0" />
<line x1="223.03" y1="531.90" x2="223.03" y2="535.70" stroke="#231f20" stroke-width="1.1" />
<text x="223.03" y="545.90" font-size="7.0" text-anchor="middle" >0</text>
<line x1="238.28" y1="531.90" x2="238.28" y2="535.70" stroke="#231f20" stroke-width="1.1" />
<text x="238.28" y="545.90" font-size="7.0" text-anchor="middle" >1</text>
<line x1="253.53" y1="531.90" x2="253.53" y2="535.70" stroke="#231f20" stroke-width="1.1" />
<text x="253.53" y="545.90" font-size="7.0" text-anchor="middle" >3</text>
<line x1="268.77" y1="531.90" x2="268.77" y2="535.70" stroke="#231f20" stroke-width="1.1" />
<text x="268.77" y="545.90" font-size="7.0" text-anchor="middle" >10</text>
<line x1="284.02" y1="531.90" x2="284.02" y2="535.70" stroke="#231f20" stroke-width="1.1" />
<text x="284.02" y="545.90" font-size="7.0" text-anchor="middle" >30</text>
<line x1="299.27" y1="531.90" x2="299.27" y2="535.70" stroke="#231f20" stroke-width="1.1" />
<text x="299.27" y="545.90" font-size="7.0" text-anchor="middle" >100</text>
<line x1="314.52" y1="531.90" x2="314.52" y2="535.70" stroke="#231f20" stroke-width="1.1" />
<text x="314.52" y="545.90" font-size="7.0" text-anchor="middle" >300</text>
<line x1="329.77" y1="531.90" x2="329.77" y2="535.70" stroke="#231f20" stroke-width="1.1" />
<text x="329.77" y="545.90" font-size="7.0" text-anchor="middle" >1000</text>
<text x="276.40" y="557.30" font-size="8.3" text-anchor="middle" textLength="53.50" lengthAdjust="spacingAndGlyphs" >A−1331852 (nM)</text>
<text x="185.50" y="487.30" font-size="7.8" text-anchor="middle" textLength="48.00" lengthAdjust="spacingAndGlyphs" transform="rotate(-90 185.50 487.30)" >Venetoclax (nM)</text>
<defs><linearGradient id="g215"><stop offset="0.000" stop-color="#ffffff"/><stop offset="0.100" stop-color="#fdeeeb"/><stop offset="0.200" stop-color="#fbdbd6"/><stop offset="0.300" stop-color="#f8c6be"/><stop offset="0.400" stop-color="#f5aea1"/><stop offset="0.500" stop-color="#f29281"/><stop offset="0.600" stop-color="#ef7964"/><stop offset="0.700" stop-color="#ec654d"/><stop offset="0.800" stop-color="#ea5136"/><stop offset="0.900" stop-color="#e84629"/><stop offset="1.000" stop-color="#e73a1b"/></linearGradient></defs>
<rect x="242.40" y="434.80" width="68.30" height="4.80" fill="url(#g215)" />
<text x="243.40" y="429.20" font-size="7.2" text-anchor="middle" >0</text>
<text x="260.20" y="429.20" font-size="7.2" text-anchor="middle" >25</text>
<text x="277.00" y="429.20" font-size="7.2" text-anchor="middle" >50</text>
<text x="293.90" y="429.20" font-size="7.2" text-anchor="middle" >75</text>
<text x="275.50" y="417.10" font-size="8.2" text-anchor="middle" textLength="48.80" lengthAdjust="spacingAndGlyphs" >Inhibition (%)</text>
<rect x="390.40" y="444.30" width="15.75" height="11.25" fill="#ea5236" shape-rendering="crispEdges"/>
<rect x="405.65" y="444.30" width="15.75" height="11.25" fill="#ea5237" shape-rendering="crispEdges"/>
<rect x="420.90" y="444.30" width="15.75" height="11.25" fill="#e73b1c" shape-rendering="crispEdges"/>
<rect x="436.15" y="444.30" width="15.75" height="11.25" fill="#e73a1b" shape-rendering="crispEdges"/>
<rect x="451.40" y="444.30" width="15.75" height="11.25" fill="#e73a1b" shape-rendering="crispEdges"/>
<rect x="466.65" y="444.30" width="15.75" height="11.25" fill="#e73a1b" shape-rendering="crispEdges"/>
<rect x="481.90" y="444.30" width="15.75" height="11.25" fill="#e73a1b" shape-rendering="crispEdges"/>
<rect x="497.15" y="444.30" width="15.75" height="11.25" fill="#e73a1b" shape-rendering="crispEdges"/>
<rect x="390.40" y="455.05" width="15.75" height="11.25" fill="#ef7f6a" shape-rendering="crispEdges"/>
<rect x="405.65" y="455.05" width="15.75" height="11.25" fill="#f0806d" shape-rendering="crispEdges"/>
<rect x="420.90" y="455.05" width="15.75" height="11.25" fill="#e73c1d" shape-rendering="crispEdges"/>
<rect x="436.15" y="455.05" width="15.75" height="11.25" fill="#e73c1e" shape-rendering="crispEdges"/>
<rect x="451.40" y="455.05" width="15.75" height="11.25" fill="#e73b1c" shape-rendering="crispEdges"/>
<rect x="466.65" y="455.05" width="15.75" height="11.25" fill="#e73a1b" shape-rendering="crispEdges"/>
<rect x="481.90" y="455.05" width="15.75" height="11.25" fill="#e73b1c" shape-rendering="crispEdges"/>
<rect x="497.15" y="455.05" width="15.75" height="11.25" fill="#e73a1b" shape-rendering="crispEdges"/>
<rect x="390.40" y="465.80" width="15.75" height="11.25" fill="#f5b1a5" shape-rendering="crispEdges"/>
<rect x="405.65" y="465.80" width="15.75" height="11.25" fill="#f6b5a9" shape-rendering="crispEdges"/>
<rect x="420.90" y="465.80" width="15.75" height="11.25" fill="#e9472b" shape-rendering="crispEdges"/>
<rect x="436.15" y="465.80" width="15.75" height="11.25" fill="#e84426" shape-rendering="crispEdges"/>
<rect x="451.40" y="465.80" width="15.75" height="11.25" fill="#e83e20" shape-rendering="crispEdges"/>
<rect x="466.65" y="465.80" width="15.75" height="11.25" fill="#e73c1d" shape-rendering="crispEdges"/>
<rect x="481.90" y="465.80" width="15.75" height="11.25" fill="#e73c1d" shape-rendering="crispEdges"/>
<rect x="497.15" y="465.80" width="15.75" height="11.25" fill="#e73a1c" shape-rendering="crispEdges"/>
<rect x="390.40" y="476.55" width="15.75" height="11.25" fill="#fad5cf" shape-rendering="crispEdges"/>
<rect x="405.65" y="476.55" width="15.75" height="11.25" fill="#f9d1ca" shape-rendering="crispEdges"/>
<rect x="420.90" y="476.55" width="15.75" height="11.25" fill="#ec654d" shape-rendering="crispEdges"/>
<rect x="436.15" y="476.55" width="15.75" height="11.25" fill="#ea5035" shape-rendering="crispEdges"/>
<rect x="451.40" y="476.55" width="15.75" height="11.25" fill="#e9482b" shape-rendering="crispEdges"/>
<rect x="466.65" y="476.55" width="15.75" height="11.25" fill="#e83e20" shape-rendering="crispEdges"/>
<rect x="481.90" y="476.55" width="15.75" height="11.25" fill="#e84022" shape-rendering="crispEdges"/>
<rect x="497.15" y="476.55" width="15.75" height="11.25" fill="#e73c1d" shape-rendering="crispEdges"/>
<rect x="390.40" y="487.30" width="15.75" height="11.25" fill="#fdedeb" shape-rendering="crispEdges"/>
<rect x="405.65" y="487.30" width="15.75" height="11.25" fill="#e7f2e4" shape-rendering="crispEdges"/>
<rect x="420.90" y="487.30" width="15.75" height="11.25" fill="#f7bbb0" shape-rendering="crispEdges"/>
<rect x="436.15" y="487.30" width="15.75" height="11.25" fill="#ee7761" shape-rendering="crispEdges"/>
<rect x="451.40" y="487.30" width="15.75" height="11.25" fill="#ea4f34" shape-rendering="crispEdges"/>
<rect x="466.65" y="487.30" width="15.75" height="11.25" fill="#e84022" shape-rendering="crispEdges"/>
<rect x="481.90" y="487.30" width="15.75" height="11.25" fill="#e84528" shape-rendering="crispEdges"/>
<rect x="497.15" y="487.30" width="15.75" height="11.25" fill="#e73b1c" shape-rendering="crispEdges"/>
<rect x="390.40" y="498.05" width="15.75" height="11.25" fill="#f8fbf7" shape-rendering="crispEdges"/>
<rect x="405.65" y="498.05" width="15.75" height="11.25" fill="#e9f4e6" shape-rendering="crispEdges"/>
<rect x="420.90" y="498.05" width="15.75" height="11.25" fill="#f7bbb1" shape-rendering="crispEdges"/>
<rect x="436.15" y="498.05" width="15.75" height="11.25" fill="#ee7761" shape-rendering="crispEdges"/>
<rect x="451.40" y="498.05" width="15.75" height="11.25" fill="#ea5034" shape-rendering="crispEdges"/>
<rect x="466.65" y="498.05" width="15.75" height="11.25" fill="#e84021" shape-rendering="crispEdges"/>
<rect x="481.90" y="498.05" width="15.75" height="11.25" fill="#e84427" shape-rendering="crispEdges"/>
<rect x="497.15" y="498.05" width="15.75" height="11.25" fill="#e73c1d" shape-rendering="crispEdges"/>
<rect x="390.40" y="508.80" width="15.75" height="11.25" fill="#f4f9f3" shape-rendering="crispEdges"/>
<rect x="405.65" y="508.80" width="15.75" height="11.25" fill="#eff7ed" shape-rendering="crispEdges"/>
<rect x="420.90" y="508.80" width="15.75" height="11.25" fill="#f7bdb2" shape-rendering="crispEdges"/>
<rect x="436.15" y="508.80" width="15.75" height="11.25" fill="#ef7a65" shape-rendering="crispEdges"/>
<rect x="451.40" y="508.80" width="15.75" height="11.25" fill="#ea4f33" shape-rendering="crispEdges"/>
<rect x="466.65" y="508.80" width="15.75" height="11.25" fill="#e83f20" shape-rendering="crispEdges"/>
<rect x="481.90" y="508.80" width="15.75" height="11.25" fill="#e84224" shape-rendering="crispEdges"/>
<rect x="497.15" y="508.80" width="15.75" height="11.25" fill="#e73b1c" shape-rendering="crispEdges"/>
<rect x="390.40" y="519.55" width="15.75" height="11.25" fill="#f1f8ef" shape-rendering="crispEdges"/>
<rect x="405.65" y="519.55" width="15.75" height="11.25" fill="#e5f2e2" shape-rendering="crispEdges"/>
<rect x="420.90" y="519.55" width="15.75" height="11.25" fill="#f7c0b6" shape-rendering="crispEdges"/>
<rect x="436.15" y="519.55" width="15.75" height="11.25" fill="#ef7c67" shape-rendering="crispEdges"/>
<rect x="451.40" y="519.55" width="15.75" height="11.25" fill="#ea4f34" shape-rendering="crispEdges"/>
<rect x="466.65" y="519.55" width="15.75" height="11.25" fill="#e84325" shape-rendering="crispEdges"/>
<rect x="481.90" y="519.55" width="15.75" height="11.25" fill="#e9472a" shape-rendering="crispEdges"/>
<rect x="497.15" y="519.55" width="15.75" height="11.25" fill="#e73c1d" shape-rendering="crispEdges"/>
<text x="398.02" y="451.38" font-size="4.6" text-anchor="middle" fill="#3a2420" stroke="#3a2420" stroke-width="0.07">79.8</text>
<text x="413.27" y="451.38" font-size="4.6" text-anchor="middle" fill="#3a2420" stroke="#3a2420" stroke-width="0.07">79.4</text>
<text x="428.52" y="451.38" font-size="4.6" text-anchor="middle" fill="#3a2420" stroke="#3a2420" stroke-width="0.07">99.23</text>
<text x="443.77" y="451.38" font-size="4.6" text-anchor="middle" fill="#3a2420" stroke="#3a2420" stroke-width="0.07">99.7</text>
<text x="459.02" y="451.38" font-size="4.6" text-anchor="middle" fill="#3a2420" stroke="#3a2420" stroke-width="0.07">99.82</text>
<text x="474.27" y="451.38" font-size="4.6" text-anchor="middle" fill="#3a2420" stroke="#3a2420" stroke-width="0.07">99.87</text>
<text x="489.52" y="451.38" font-size="4.6" text-anchor="middle" fill="#3a2420" stroke="#3a2420" stroke-width="0.07">99.88</text>
<text x="504.77" y="451.38" font-size="4.6" text-anchor="middle" fill="#3a2420" stroke="#3a2420" stroke-width="0.07">100.03</text>
<text x="398.02" y="462.12" font-size="4.6" text-anchor="middle" fill="#3a2420" stroke="#3a2420" stroke-width="0.07">57.16</text>
<text x="413.27" y="462.12" font-size="4.6" text-anchor="middle" fill="#3a2420" stroke="#3a2420" stroke-width="0.07">56.47</text>
<text x="428.52" y="462.12" font-size="4.6" text-anchor="middle" fill="#3a2420" stroke="#3a2420" stroke-width="0.07">98.29</text>
<text x="443.77" y="462.12" font-size="4.6" text-anchor="middle" fill="#3a2420" stroke="#3a2420" stroke-width="0.07">97.99</text>
<text x="459.02" y="462.12" font-size="4.6" text-anchor="middle" fill="#3a2420" stroke="#3a2420" stroke-width="0.07">99.02</text>
<text x="474.27" y="462.12" font-size="4.6" text-anchor="middle" fill="#3a2420" stroke="#3a2420" stroke-width="0.07">99.75</text>
<text x="489.52" y="462.12" font-size="4.6" text-anchor="middle" fill="#3a2420" stroke="#3a2420" stroke-width="0.07">99.03</text>
<text x="504.77" y="462.12" font-size="4.6" text-anchor="middle" fill="#3a2420" stroke="#3a2420" stroke-width="0.07">99.88</text>
<text x="398.02" y="472.88" font-size="4.6" text-anchor="middle" fill="#3a2420" stroke="#3a2420" stroke-width="0.07">38.98</text>
<text x="413.27" y="472.88" font-size="4.6" text-anchor="middle" fill="#3a2420" stroke="#3a2420" stroke-width="0.07">37.64</text>
<text x="428.52" y="472.88" font-size="4.6" text-anchor="middle" fill="#3a2420" stroke="#3a2420" stroke-width="0.07">88.54</text>
<text x="443.77" y="472.88" font-size="4.6" text-anchor="middle" fill="#3a2420" stroke="#3a2420" stroke-width="0.07">91.79</text>
<text x="459.02" y="472.88" font-size="4.6" text-anchor="middle" fill="#3a2420" stroke="#3a2420" stroke-width="0.07">96.23</text>
<text x="474.27" y="472.88" font-size="4.6" text-anchor="middle" fill="#3a2420" stroke="#3a2420" stroke-width="0.07">98.71</text>
<text x="489.52" y="472.88" font-size="4.6" text-anchor="middle" fill="#3a2420" stroke="#3a2420" stroke-width="0.07">98.63</text>
<text x="504.77" y="472.88" font-size="4.6" text-anchor="middle" fill="#3a2420" stroke="#3a2420" stroke-width="0.07">99.59</text>
<text x="398.02" y="483.62" font-size="4.6" text-anchor="middle" fill="#3a2420" stroke="#3a2420" stroke-width="0.07">22.92</text>
<text x="413.27" y="483.62" font-size="4.6" text-anchor="middle" fill="#3a2420" stroke="#3a2420" stroke-width="0.07">24.79</text>
<text x="428.52" y="483.62" font-size="4.6" text-anchor="middle" fill="#3a2420" stroke="#3a2420" stroke-width="0.07">70.12</text>
<text x="443.77" y="483.62" font-size="4.6" text-anchor="middle" fill="#3a2420" stroke="#3a2420" stroke-width="0.07">80.79</text>
<text x="459.02" y="483.62" font-size="4.6" text-anchor="middle" fill="#3a2420" stroke="#3a2420" stroke-width="0.07">87.86</text>
<text x="474.27" y="483.62" font-size="4.6" text-anchor="middle" fill="#3a2420" stroke="#3a2420" stroke-width="0.07">96.41</text>
<text x="489.52" y="483.62" font-size="4.6" text-anchor="middle" fill="#3a2420" stroke="#3a2420" stroke-width="0.07">94.89</text>
<text x="504.77" y="483.62" font-size="4.6" text-anchor="middle" fill="#3a2420" stroke="#3a2420" stroke-width="0.07">98.57</text>
<text x="398.02" y="494.38" font-size="4.6" text-anchor="middle" fill="#3a2420" stroke="#3a2420" stroke-width="0.07">10.12</text>
<text x="413.27" y="494.38" font-size="4.6" text-anchor="middle" fill="#3a2420" stroke="#3a2420" stroke-width="0.07">−14.79</text>
<text x="428.52" y="494.38" font-size="4.6" text-anchor="middle" fill="#3a2420" stroke="#3a2420" stroke-width="0.07">35.42</text>
<text x="443.77" y="494.38" font-size="4.6" text-anchor="middle" fill="#3a2420" stroke="#3a2420" stroke-width="0.07">61.25</text>
<text x="459.02" y="494.38" font-size="4.6" text-anchor="middle" fill="#3a2420" stroke="#3a2420" stroke-width="0.07">81.68</text>
<text x="474.27" y="494.38" font-size="4.6" text-anchor="middle" fill="#3a2420" stroke="#3a2420" stroke-width="0.07">94.56</text>
<text x="489.52" y="494.38" font-size="4.6" text-anchor="middle" fill="#3a2420" stroke="#3a2420" stroke-width="0.07">90.31</text>
<text x="504.77" y="494.38" font-size="4.6" text-anchor="middle" fill="#3a2420" stroke="#3a2420" stroke-width="0.07">99.18</text>
<text x="398.02" y="505.12" font-size="4.6" text-anchor="middle" fill="#3a2420" stroke="#3a2420" stroke-width="0.07">−4.36</text>
<text x="413.27" y="505.12" font-size="4.6" text-anchor="middle" fill="#3a2420" stroke="#3a2420" stroke-width="0.07">−13.31</text>
<text x="428.52" y="505.12" font-size="4.6" text-anchor="middle" fill="#3a2420" stroke="#3a2420" stroke-width="0.07">35.26</text>
<text x="443.77" y="505.12" font-size="4.6" text-anchor="middle" fill="#3a2420" stroke="#3a2420" stroke-width="0.07">61.16</text>
<text x="459.02" y="505.12" font-size="4.6" text-anchor="middle" fill="#3a2420" stroke="#3a2420" stroke-width="0.07">81.2</text>
<text x="474.27" y="505.12" font-size="4.6" text-anchor="middle" fill="#3a2420" stroke="#3a2420" stroke-width="0.07">95.27</text>
<text x="489.52" y="505.12" font-size="4.6" text-anchor="middle" fill="#3a2420" stroke="#3a2420" stroke-width="0.07">91.26</text>
<text x="504.77" y="505.12" font-size="4.6" text-anchor="middle" fill="#3a2420" stroke="#3a2420" stroke-width="0.07">98.63</text>
<text x="398.02" y="515.88" font-size="4.6" text-anchor="middle" fill="#3a2420" stroke="#3a2420" stroke-width="0.07">−6.56</text>
<text x="413.27" y="515.88" font-size="4.6" text-anchor="middle" fill="#3a2420" stroke="#3a2420" stroke-width="0.07">−9.99</text>
<text x="428.52" y="515.88" font-size="4.6" text-anchor="middle" fill="#3a2420" stroke="#3a2420" stroke-width="0.07">34.64</text>
<text x="443.77" y="515.88" font-size="4.6" text-anchor="middle" fill="#3a2420" stroke="#3a2420" stroke-width="0.07">59.72</text>
<text x="459.02" y="515.88" font-size="4.6" text-anchor="middle" fill="#3a2420" stroke="#3a2420" stroke-width="0.07">82.19</text>
<text x="474.27" y="515.88" font-size="4.6" text-anchor="middle" fill="#3a2420" stroke="#3a2420" stroke-width="0.07">95.99</text>
<text x="489.52" y="515.88" font-size="4.6" text-anchor="middle" fill="#3a2420" stroke="#3a2420" stroke-width="0.07">93.14</text>
<text x="504.77" y="515.88" font-size="4.6" text-anchor="middle" fill="#3a2420" stroke="#3a2420" stroke-width="0.07">99.2</text>
<text x="398.02" y="526.62" font-size="4.6" text-anchor="middle" fill="#3a2420" stroke="#3a2420" stroke-width="0.07">−8.51</text>
<text x="413.27" y="526.62" font-size="4.6" text-anchor="middle" fill="#3a2420" stroke="#3a2420" stroke-width="0.07">−15.53</text>
<text x="428.52" y="526.62" font-size="4.6" text-anchor="middle" fill="#3a2420" stroke="#3a2420" stroke-width="0.07">33.31</text>
<text x="443.77" y="526.62" font-size="4.6" text-anchor="middle" fill="#3a2420" stroke="#3a2420" stroke-width="0.07">58.49</text>
<text x="459.02" y="526.62" font-size="4.6" text-anchor="middle" fill="#3a2420" stroke="#3a2420" stroke-width="0.07">81.73</text>
<text x="474.27" y="526.62" font-size="4.6" text-anchor="middle" fill="#3a2420" stroke="#3a2420" stroke-width="0.07">92.33</text>
<text x="489.52" y="526.62" font-size="4.6" text-anchor="middle" fill="#3a2420" stroke="#3a2420" stroke-width="0.07">89.24</text>
<text x="504.77" y="526.62" font-size="4.6" text-anchor="middle" fill="#3a2420" stroke="#3a2420" stroke-width="0.07">98.44</text>
<text x="382.20" y="452.18" font-size="7.0" text-anchor="end" >10000</text>
<line x1="385.60" y1="449.68" x2="388.60" y2="449.68" stroke="#231f20" stroke-width="1.0" />
<text x="382.20" y="462.93" font-size="7.0" text-anchor="end" >3000</text>
<line x1="385.60" y1="460.43" x2="388.60" y2="460.43" stroke="#231f20" stroke-width="1.0" />
<text x="382.20" y="473.68" font-size="7.0" text-anchor="end" >1000</text>
<line x1="385.60" y1="471.18" x2="388.60" y2="471.18" stroke="#231f20" stroke-width="1.0" />
<text x="382.20" y="484.43" font-size="7.0" text-anchor="end" >300</text>
<line x1="385.60" y1="481.93" x2="388.60" y2="481.93" stroke="#231f20" stroke-width="1.0" />
<text x="382.20" y="495.18" font-size="7.0" text-anchor="end" >100</text>
<line x1="385.60" y1="492.68" x2="388.60" y2="492.68" stroke="#231f20" stroke-width="1.0" />
<text x="382.20" y="505.93" font-size="7.0" text-anchor="end" >30</text>
<line x1="385.60" y1="503.43" x2="388.60" y2="503.43" stroke="#231f20" stroke-width="1.0" />
<text x="382.20" y="516.67" font-size="7.0" text-anchor="end" >10</text>
<line x1="385.60" y1="514.17" x2="388.60" y2="514.17" stroke="#231f20" stroke-width="1.0" />
<text x="382.20" y="527.42" font-size="7.0" text-anchor="end" >0</text>
<line x1="385.60" y1="524.92" x2="388.60" y2="524.92" stroke="#231f20" stroke-width="1.0" />
<line x1="398.02" y1="531.90" x2="398.02" y2="535.70" stroke="#231f20" stroke-width="1.1" />
<text x="398.02" y="545.90" font-size="7.0" text-anchor="middle" >0</text>
<line x1="413.27" y1="531.90" x2="413.27" y2="535.70" stroke="#231f20" stroke-width="1.1" />
<text x="413.27" y="545.90" font-size="7.0" text-anchor="middle" >1</text>
<line x1="428.52" y1="531.90" x2="428.52" y2="535.70" stroke="#231f20" stroke-width="1.1" />
<text x="428.52" y="545.90" font-size="7.0" text-anchor="middle" >3</text>
<line x1="443.77" y1="531.90" x2="443.77" y2="535.70" stroke="#231f20" stroke-width="1.1" />
<text x="443.77" y="545.90" font-size="7.0" text-anchor="middle" >10</text>
<line x1="459.02" y1="531.90" x2="459.02" y2="535.70" stroke="#231f20" stroke-width="1.1" />
<text x="459.02" y="545.90" font-size="7.0" text-anchor="middle" >30</text>
<line x1="474.27" y1="531.90" x2="474.27" y2="535.70" stroke="#231f20" stroke-width="1.1" />
<text x="474.27" y="545.90" font-size="7.0" text-anchor="middle" >100</text>
<line x1="489.52" y1="531.90" x2="489.52" y2="535.70" stroke="#231f20" stroke-width="1.1" />
<text x="489.52" y="545.90" font-size="7.0" text-anchor="middle" >300</text>
<line x1="504.77" y1="531.90" x2="504.77" y2="535.70" stroke="#231f20" stroke-width="1.1" />
<text x="504.77" y="545.90" font-size="7.0" text-anchor="middle" >1000</text>
<text x="451.40" y="557.30" font-size="8.3" text-anchor="middle" textLength="53.50" lengthAdjust="spacingAndGlyphs" >A−1331852 (nM)</text>
<text x="358.50" y="487.30" font-size="7.8" text-anchor="middle" textLength="48.00" lengthAdjust="spacingAndGlyphs" transform="rotate(-90 358.50 487.30)" >Azacitidine (nM)</text>
<defs><linearGradient id="g390"><stop offset="0" stop-color="#deeeda"/><stop offset="0.170" stop-color="#ffffff"/><stop offset="0.253" stop-color="#fdeeeb"/><stop offset="0.336" stop-color="#fbdbd6"/><stop offset="0.419" stop-color="#f8c6be"/><stop offset="0.502" stop-color="#f5aea1"/><stop offset="0.585" stop-color="#f29281"/><stop offset="0.668" stop-color="#ef7964"/><stop offset="0.751" stop-color="#ec654d"/><stop offset="0.834" stop-color="#ea5136"/><stop offset="0.917" stop-color="#e84629"/><stop offset="1.000" stop-color="#e73a1b"/></linearGradient></defs>
<rect x="414.40" y="434.80" width="70.30" height="4.80" fill="url(#g390)" />
<text x="426.50" y="429.20" font-size="7.2" text-anchor="middle" >0</text>
<text x="441.40" y="429.20" font-size="7.2" text-anchor="middle" >25</text>
<text x="457.00" y="429.20" font-size="7.2" text-anchor="middle" >50</text>
<text x="470.80" y="429.20" font-size="7.2" text-anchor="middle" >75</text>
<text x="486.40" y="429.20" font-size="7.2" text-anchor="middle" >100</text>
<text x="450.80" y="417.10" font-size="8.2" text-anchor="middle" textLength="48.80" lengthAdjust="spacingAndGlyphs" >Inhibition (%)</text>
<text x="0.60" y="604.20" font-size="12" font-weight="bold" fill="#000" >F</text>
<rect x="51.50" y="623.94" width="75.60" height="103.10" fill="#eeeef1" />
<line x1="51.50" y1="622.54" x2="51.50" y2="727.64" stroke="#231f20" stroke-width="1.3" />
<line x1="50.90" y1="727.04" x2="179.60" y2="727.04" stroke="#231f20" stroke-width="1.3" />
<line x1="48.20" y1="624.94" x2="51.50" y2="624.94" stroke="#231f20" stroke-width="0.9" />
<text x="44.90" y="627.44" font-size="7.0" text-anchor="end" >1000</text>
<line x1="48.20" y1="645.36" x2="51.50" y2="645.36" stroke="#231f20" stroke-width="0.9" />
<text x="44.90" y="647.86" font-size="7.0" text-anchor="end" >100</text>
<line x1="48.20" y1="665.78" x2="51.50" y2="665.78" stroke="#231f20" stroke-width="0.9" />
<text x="44.90" y="668.28" font-size="7.0" text-anchor="end" >10</text>
<line x1="48.20" y1="686.20" x2="51.50" y2="686.20" stroke="#231f20" stroke-width="0.9" />
<text x="44.90" y="688.70" font-size="7.0" text-anchor="end" >1</text>
<line x1="48.20" y1="706.62" x2="51.50" y2="706.62" stroke="#231f20" stroke-width="0.9" />
<text x="44.90" y="709.12" font-size="7.0" text-anchor="end" >0.1</text>
<line x1="48.20" y1="727.04" x2="51.50" y2="727.04" stroke="#231f20" stroke-width="0.9" />
<text x="44.90" y="729.54" font-size="7.0" text-anchor="end" >0.01</text>
<line x1="66.05" y1="727.04" x2="66.05" y2="728.84" stroke="#231f20" stroke-width="0.9" />
<line x1="84.00" y1="727.04" x2="84.00" y2="730.04" stroke="#231f20" stroke-width="0.9" />
<line x1="101.95" y1="727.04" x2="101.95" y2="728.84" stroke="#231f20" stroke-width="0.9" />
<line x1="119.90" y1="727.04" x2="119.90" y2="730.04" stroke="#231f20" stroke-width="0.9" />
<line x1="137.85" y1="727.04" x2="137.85" y2="728.84" stroke="#231f20" stroke-width="0.9" />
<line x1="155.80" y1="727.04" x2="155.80" y2="730.04" stroke="#231f20" stroke-width="0.9" />
<line x1="173.75" y1="727.04" x2="173.75" y2="728.84" stroke="#231f20" stroke-width="0.9" />
<text x="84.00" y="740.30" font-size="7.0" text-anchor="middle" >10</text>
<text x="119.90" y="740.30" font-size="7.0" text-anchor="middle" >20</text>
<text x="155.80" y="740.30" font-size="7.0" text-anchor="middle" >30</text>
<text x="116.20" y="752.40" font-size="8.6" text-anchor="middle" textLength="10.80" lengthAdjust="spacingAndGlyphs" >Day</text>
<text x="22.50" y="674.70" font-size="7.0" text-anchor="middle" textLength="31.00" lengthAdjust="spacingAndGlyphs" transform="rotate(-90 22.50 674.70)" >Cells (10<tspan font-size="4.6" dy="-2.6">5</tspan><tspan dy="2.6">)</tspan></text>
<text x="116.00" y="604.60" font-size="9.0" text-anchor="middle" textLength="14.30" lengthAdjust="spacingAndGlyphs" >TF1</text>
<text x="124.60" y="615.20" font-size="7.8" text-anchor="end" textLength="30.80" lengthAdjust="spacingAndGlyphs" fill="#666" >Drug on</text>
<text x="131.50" y="615.20" font-size="7.8" textLength="31.20" lengthAdjust="spacingAndGlyphs" fill="#666" >Drug off</text>
<defs><clipPath id="c51"><rect x="48.5" y="621.94" width="134.1" height="108.10000000000002"/></clipPath></defs>
<g clip-path="url(#c51)">
<polyline points="51.69,686.20 62.46,685.35 76.82,720.89 87.59,727.04 101.95,727.04 112.72,727.04 127.08,727.04 137.85,727.04 152.21,727.04 162.98,727.04 177.34,727.04" fill="none" stroke="#d98a2a" stroke-width="1.2" stroke-linejoin="round" />
<polyline points="51.69,686.20 62.46,683.87 76.82,714.75 87.59,727.04" fill="none" stroke="#25704e" stroke-width="1.2" stroke-linejoin="round" />
<polyline points="51.69,686.20 62.46,682.03 76.82,679.62 87.59,680.99 101.95,678.81 112.72,678.07 127.08,671.93 137.85,666.71 152.21,656.65 162.98,642.38" fill="none" stroke="#b5a3dc" stroke-width="1.2" stroke-linejoin="round" />
<polyline points="51.69,686.20 62.46,678.81 76.82,673.06 87.59,667.98 101.95,659.63 112.72,646.80 127.08,632.63 137.85,622.61" fill="none" stroke="#34475f" stroke-width="1.2" stroke-linejoin="round" />
<polyline points="51.69,686.20 62.46,680.99 76.82,678.81 87.59,679.62 101.95,679.62 112.72,683.22 127.08,685.35 137.85,680.05 152.21,664.93 162.98,651.51" fill="none" stroke="#c8102e" stroke-width="1.2" stroke-linejoin="round" />
<polyline points="51.69,686.20 62.46,675.09 76.82,659.63 87.59,649.89 101.95,637.23 112.72,629.47 119.18,623.32" fill="none" stroke="#3fb24a" stroke-width="1.2" stroke-linejoin="round" />
<polyline points="51.69,686.20 62.46,674.36 76.82,658.79 87.59,647.34 101.95,632.02 110.92,623.32" fill="none" stroke="#2f4f6f" stroke-width="1.2" stroke-linejoin="round" />
<polyline points="51.69,686.20 62.46,673.91 76.82,657.65 87.59,646.29 101.95,631.09 109.85,623.32" fill="none" stroke="#4ab8e8" stroke-width="1.5" stroke-linejoin="round" />
<circle cx="51.69" cy="686.20" r="2.1" fill="#f4e2cc" fill-opacity="0.35" stroke="#c87a20" stroke-width="0.8"/>
<circle cx="62.46" cy="685.35" r="2.1" fill="#f4e2cc" fill-opacity="0.35" stroke="#c87a20" stroke-width="0.8"/>
<circle cx="76.82" cy="720.89" r="2.1" fill="#f4e2cc" fill-opacity="0.35" stroke="#c87a20" stroke-width="0.8"/>
<circle cx="87.59" cy="727.04" r="2.1" fill="#f4e2cc" fill-opacity="0.35" stroke="#c87a20" stroke-width="0.8"/>
<circle cx="101.95" cy="727.04" r="2.1" fill="#f4e2cc" fill-opacity="0.35" stroke="#c87a20" stroke-width="0.8"/>
<circle cx="112.72" cy="727.04" r="2.1" fill="#f4e2cc" fill-opacity="0.35" stroke="#c87a20" stroke-width="0.8"/>
<circle cx="127.08" cy="727.04" r="2.1" fill="#f4e2cc" fill-opacity="0.35" stroke="#c87a20" stroke-width="0.8"/>
<circle cx="137.85" cy="727.04" r="2.1" fill="#f4e2cc" fill-opacity="0.35" stroke="#c87a20" stroke-width="0.8"/>
<circle cx="152.21" cy="727.04" r="2.1" fill="#f4e2cc" fill-opacity="0.35" stroke="#c87a20" stroke-width="0.8"/>
<circle cx="162.98" cy="727.04" r="2.1" fill="#f4e2cc" fill-opacity="0.35" stroke="#c87a20" stroke-width="0.8"/>
<circle cx="177.34" cy="727.04" r="2.1" fill="#f4e2cc" fill-opacity="0.35" stroke="#c87a20" stroke-width="0.8"/>
<circle cx="51.69" cy="686.20" r="2.1" fill="#f4e2cc" fill-opacity="0.35" stroke="#1f6a48" stroke-width="0.8"/>
<circle cx="62.46" cy="683.87" r="2.1" fill="#f4e2cc" fill-opacity="0.35" stroke="#1f6a48" stroke-width="0.8"/>
<circle cx="76.82" cy="714.75" r="2.1" fill="#f4e2cc" fill-opacity="0.35" stroke="#1f6a48" stroke-width="0.8"/>
<circle cx="87.59" cy="727.04" r="2.1" fill="#f4e2cc" fill-opacity="0.35" stroke="#1f6a48" stroke-width="0.8"/>
<circle cx="51.69" cy="686.20" r="2.1" fill="#f4e2cc" fill-opacity="0.35" stroke="#9b88cf" stroke-width="0.8"/>
<circle cx="62.46" cy="682.03" r="2.1" fill="#f4e2cc" fill-opacity="0.35" stroke="#9b88cf" stroke-width="0.8"/>
<circle cx="76.82" cy="679.62" r="2.1" fill="#f4e2cc" fill-opacity="0.35" stroke="#9b88cf" stroke-width="0.8"/>
<circle cx="87.59" cy="680.99" r="2.1" fill="#f4e2cc" fill-opacity="0.35" stroke="#9b88cf" stroke-width="0.8"/>
<circle cx="101.95" cy="678.81" r="2.1" fill="#f4e2cc" fill-opacity="0.35" stroke="#9b88cf" stroke-width="0.8"/>
<circle cx="112.72" cy="678.07" r="2.1" fill="#f4e2cc" fill-opacity="0.35" stroke="#9b88cf" stroke-width="0.8"/>
<circle cx="127.08" cy="671.93" r="2.1" fill="#f4e2cc" fill-opacity="0.35" stroke="#9b88cf" stroke-width="0.8"/>
<circle cx="137.85" cy="666.71" r="2.1" fill="#f4e2cc" fill-opacity="0.35" stroke="#9b88cf" stroke-width="0.8"/>
<circle cx="152.21" cy="656.65" r="2.1" fill="#f4e2cc" fill-opacity="0.35" stroke="#9b88cf" stroke-width="0.8"/>
<circle cx="162.98" cy="642.38" r="2.1" fill="#f4e2cc" fill-opacity="0.35" stroke="#9b88cf" stroke-width="0.8"/>
<path d="M51.69,684.10 L53.69,687.60 L49.69,687.60 Z" fill="#2b3d55"/>
<path d="M62.46,676.71 L64.46,680.21 L60.46,680.21 Z" fill="#2b3d55"/>
<path d="M76.82,670.96 L78.82,674.46 L74.82,674.46 Z" fill="#2b3d55"/>
<path d="M87.59,665.88 L89.59,669.38 L85.59,669.38 Z" fill="#2b3d55"/>
<path d="M101.95,657.53 L103.95,661.03 L99.95,661.03 Z" fill="#2b3d55"/>
<path d="M112.72,644.70 L114.72,648.20 L110.72,648.20 Z" fill="#2b3d55"/>
<path d="M127.08,630.53 L129.08,634.03 L125.08,634.03 Z" fill="#2b3d55"/>
<path d="M51.69,684.10 L53.69,687.60 L49.69,687.60 Z" fill="#c8102e"/>
<path d="M62.46,678.89 L64.46,682.39 L60.46,682.39 Z" fill="#c8102e"/>
<path d="M76.82,676.71 L78.82,680.21 L74.82,680.21 Z" fill="#c8102e"/>
<path d="M87.59,677.52 L89.59,681.02 L85.59,681.02 Z" fill="#c8102e"/>
<path d="M101.95,677.52 L103.95,681.02 L99.95,681.02 Z" fill="#c8102e"/>
<path d="M112.72,681.12 L114.72,684.62 L110.72,684.62 Z" fill="#c8102e"/>
<path d="M127.08,683.25 L129.08,686.75 L125.08,686.75 Z" fill="#c8102e"/>
<path d="M137.85,677.95 L139.85,681.45 L135.85,681.45 Z" fill="#c8102e"/>
<path d="M152.21,662.83 L154.21,666.33 L150.21,666.33 Z" fill="#c8102e"/>
<path d="M162.98,649.41 L164.98,652.91 L160.98,652.91 Z" fill="#c8102e"/>
<path d="M51.69,684.10 L53.69,687.60 L49.69,687.60 Z" fill="#3fb24a"/>
<path d="M62.46,672.99 L64.46,676.49 L60.46,676.49 Z" fill="#3fb24a"/>
<path d="M76.82,657.53 L78.82,661.03 L74.82,661.03 Z" fill="#3fb24a"/>
<path d="M87.59,647.79 L89.59,651.29 L85.59,651.29 Z" fill="#3fb24a"/>
<path d="M101.95,635.13 L103.95,638.63 L99.95,638.63 Z" fill="#3fb24a"/>
<path d="M112.72,627.37 L114.72,630.87 L110.72,630.87 Z" fill="#3fb24a"/>
<rect x="49.99" y="684.50" width="3.40" height="3.40" fill="#2a4a6a" />
<rect x="60.76" y="672.66" width="3.40" height="3.40" fill="#2a4a6a" />
<rect x="75.12" y="657.09" width="3.40" height="3.40" fill="#2a4a6a" />
<rect x="85.89" y="645.64" width="3.40" height="3.40" fill="#2a4a6a" />
<rect x="100.25" y="630.32" width="3.40" height="3.40" fill="#2a4a6a" />
<rect x="49.99" y="684.50" width="3.40" height="3.40" fill="#2a9bd4" />
<rect x="60.76" y="672.21" width="3.40" height="3.40" fill="#2a9bd4" />
<rect x="75.12" y="655.95" width="3.40" height="3.40" fill="#2a9bd4" />
<rect x="85.89" y="644.59" width="3.40" height="3.40" fill="#2a9bd4" />
<rect x="100.25" y="629.39" width="3.40" height="3.40" fill="#2a9bd4" />
</g>
<rect x="222.00" y="625.90" width="73.80" height="101.00" fill="#eeeef1" />
<line x1="222.00" y1="624.50" x2="222.00" y2="727.50" stroke="#231f20" stroke-width="1.3" />
<line x1="221.40" y1="726.90" x2="348.30" y2="726.90" stroke="#231f20" stroke-width="1.3" />
<line x1="218.70" y1="626.90" x2="222.00" y2="626.90" stroke="#231f20" stroke-width="0.9" />
<text x="215.40" y="629.40" font-size="7.0" text-anchor="end" >1000</text>
<line x1="218.70" y1="646.90" x2="222.00" y2="646.90" stroke="#231f20" stroke-width="0.9" />
<text x="215.40" y="649.40" font-size="7.0" text-anchor="end" >100</text>
<line x1="218.70" y1="666.90" x2="222.00" y2="666.90" stroke="#231f20" stroke-width="0.9" />
<text x="215.40" y="669.40" font-size="7.0" text-anchor="end" >10</text>
<line x1="218.70" y1="686.90" x2="222.00" y2="686.90" stroke="#231f20" stroke-width="0.9" />
<text x="215.40" y="689.40" font-size="7.0" text-anchor="end" >1</text>
<line x1="218.70" y1="706.90" x2="222.00" y2="706.90" stroke="#231f20" stroke-width="0.9" />
<text x="215.40" y="709.40" font-size="7.0" text-anchor="end" >0.1</text>
<line x1="218.70" y1="726.90" x2="222.00" y2="726.90" stroke="#231f20" stroke-width="0.9" />
<text x="215.40" y="729.40" font-size="7.0" text-anchor="end" >0.01</text>
<line x1="236.22" y1="726.90" x2="236.22" y2="728.70" stroke="#231f20" stroke-width="0.9" />
<line x1="253.95" y1="726.90" x2="253.95" y2="729.90" stroke="#231f20" stroke-width="0.9" />
<line x1="271.68" y1="726.90" x2="271.68" y2="728.70" stroke="#231f20" stroke-width="0.9" />
<line x1="289.40" y1="726.90" x2="289.40" y2="729.90" stroke="#231f20" stroke-width="0.9" />
<line x1="307.12" y1="726.90" x2="307.12" y2="728.70" stroke="#231f20" stroke-width="0.9" />
<line x1="324.85" y1="726.90" x2="324.85" y2="729.90" stroke="#231f20" stroke-width="0.9" />
<line x1="342.57" y1="726.90" x2="342.57" y2="728.70" stroke="#231f20" stroke-width="0.9" />
<text x="253.95" y="740.30" font-size="7.0" text-anchor="middle" >10</text>
<text x="289.40" y="740.30" font-size="7.0" text-anchor="middle" >20</text>
<text x="324.85" y="740.30" font-size="7.0" text-anchor="middle" >30</text>
<text x="285.50" y="752.40" font-size="8.6" text-anchor="middle" textLength="10.80" lengthAdjust="spacingAndGlyphs" >Day</text>
<text x="193.00" y="675.40" font-size="7.0" text-anchor="middle" textLength="31.00" lengthAdjust="spacingAndGlyphs" transform="rotate(-90 193.00 675.40)" >Cells (10<tspan font-size="4.6" dy="-2.6">5</tspan><tspan dy="2.6">)</tspan></text>
<text x="285.00" y="604.60" font-size="9.0" text-anchor="middle" textLength="20.20" lengthAdjust="spacingAndGlyphs" >CMK</text>
<text x="293.30" y="615.20" font-size="7.8" text-anchor="end" textLength="30.80" lengthAdjust="spacingAndGlyphs" fill="#666" >Drug on</text>
<text x="300.20" y="615.20" font-size="7.8" textLength="31.20" lengthAdjust="spacingAndGlyphs" fill="#666" >Drug off</text>
<defs><clipPath id="c222"><rect x="219.0" y="623.9" width="132.3" height="106.0"/></clipPath></defs>
<g clip-path="url(#c222)">
<polyline points="222.04,686.90 232.68,694.86 246.86,726.90 257.50,726.90 271.68,726.90 282.31,726.90 296.49,726.90 307.12,726.90 321.31,726.90 331.94,726.90 346.12,726.90" fill="none" stroke="#d98a2a" stroke-width="1.2" stroke-linejoin="round" />
<polyline points="222.04,686.90 232.68,683.38 246.86,676.02 257.50,674.86 271.68,662.82 282.31,666.07 296.49,663.38 307.12,653.46 321.31,640.46" fill="none" stroke="#25704e" stroke-width="1.2" stroke-linejoin="round" />
<polyline points="222.04,686.90 232.68,682.29 246.86,673.84 257.50,670.64 271.68,667.35 282.31,666.07 296.49,657.96 307.12,652.92 321.31,640.05" fill="none" stroke="#b5a3dc" stroke-width="1.2" stroke-linejoin="round" />
<polyline points="222.04,686.90 232.68,682.29 246.86,673.10 257.50,677.36 271.68,662.82 282.31,656.02 296.49,643.38 307.12,643.38 321.31,636.80" fill="none" stroke="#34475f" stroke-width="1.2" stroke-linejoin="round" />
<polyline points="222.04,686.90 232.68,681.79 246.86,683.98 257.50,697.36 271.68,717.36 282.31,711.34 296.49,710.64 307.12,692.92 321.31,678.94 331.94,670.00 346.12,656.02" fill="none" stroke="#c8102e" stroke-width="1.2" stroke-linejoin="round" />
<polyline points="222.04,686.90 232.68,678.94 246.86,662.29 257.50,652.58 271.68,640.05 282.31,632.92" fill="none" stroke="#3fb24a" stroke-width="1.2" stroke-linejoin="round" />
<polyline points="222.04,686.90 232.68,677.96 246.86,661.79 257.50,652.09 271.68,639.30 282.31,630.64" fill="none" stroke="#2f4f6f" stroke-width="1.2" stroke-linejoin="round" />
<polyline points="222.04,686.90 232.68,677.36 246.86,660.88 257.50,651.34 271.68,638.94 282.31,630.00" fill="none" stroke="#4ab8e8" stroke-width="1.5" stroke-linejoin="round" />
<circle cx="222.04" cy="686.90" r="2.1" fill="#f4e2cc" fill-opacity="0.35" stroke="#c87a20" stroke-width="0.8"/>
<circle cx="232.68" cy="694.86" r="2.1" fill="#f4e2cc" fill-opacity="0.35" stroke="#c87a20" stroke-width="0.8"/>
<circle cx="246.86" cy="726.90" r="2.1" fill="#f4e2cc" fill-opacity="0.35" stroke="#c87a20" stroke-width="0.8"/>
<circle cx="257.50" cy="726.90" r="2.1" fill="#f4e2cc" fill-opacity="0.35" stroke="#c87a20" stroke-width="0.8"/>
<circle cx="271.68" cy="726.90" r="2.1" fill="#f4e2cc" fill-opacity="0.35" stroke="#c87a20" stroke-width="0.8"/>
<circle cx="282.31" cy="726.90" r="2.1" fill="#f4e2cc" fill-opacity="0.35" stroke="#c87a20" stroke-width="0.8"/>
<circle cx="296.49" cy="726.90" r="2.1" fill="#f4e2cc" fill-opacity="0.35" stroke="#c87a20" stroke-width="0.8"/>
<circle cx="307.12" cy="726.90" r="2.1" fill="#f4e2cc" fill-opacity="0.35" stroke="#c87a20" stroke-width="0.8"/>
<circle cx="321.31" cy="726.90" r="2.1" fill="#f4e2cc" fill-opacity="0.35" stroke="#c87a20" stroke-width="0.8"/>
<circle cx="331.94" cy="726.90" r="2.1" fill="#f4e2cc" fill-opacity="0.35" stroke="#c87a20" stroke-width="0.8"/>
<circle cx="346.12" cy="726.90" r="2.1" fill="#f4e2cc" fill-opacity="0.35" stroke="#c87a20" stroke-width="0.8"/>
<circle cx="222.04" cy="686.90" r="2.1" fill="#f4e2cc" fill-opacity="0.35" stroke="#1f6a48" stroke-width="0.8"/>
<circle cx="232.68" cy="683.38" r="2.1" fill="#f4e2cc" fill-opacity="0.35" stroke="#1f6a48" stroke-width="0.8"/>
<circle cx="246.86" cy="676.02" r="2.1" fill="#f4e2cc" fill-opacity="0.35" stroke="#1f6a48" stroke-width="0.8"/>
<circle cx="257.50" cy="674.86" r="2.1" fill="#f4e2cc" fill-opacity="0.35" stroke="#1f6a48" stroke-width="0.8"/>
<circle cx="271.68" cy="662.82" r="2.1" fill="#f4e2cc" fill-opacity="0.35" stroke="#1f6a48" stroke-width="0.8"/>
<circle cx="282.31" cy="666.07" r="2.1" fill="#f4e2cc" fill-opacity="0.35" stroke="#1f6a48" stroke-width="0.8"/>
<circle cx="296.49" cy="663.38" r="2.1" fill="#f4e2cc" fill-opacity="0.35" stroke="#1f6a48" stroke-width="0.8"/>
<circle cx="307.12" cy="653.46" r="2.1" fill="#f4e2cc" fill-opacity="0.35" stroke="#1f6a48" stroke-width="0.8"/>
<circle cx="321.31" cy="640.46" r="2.1" fill="#f4e2cc" fill-opacity="0.35" stroke="#1f6a48" stroke-width="0.8"/>
<circle cx="222.04" cy="686.90" r="2.1" fill="#f4e2cc" fill-opacity="0.35" stroke="#9b88cf" stroke-width="0.8"/>
<circle cx="232.68" cy="682.29" r="2.1" fill="#f4e2cc" fill-opacity="0.35" stroke="#9b88cf" stroke-width="0.8"/>
<circle cx="246.86" cy="673.84" r="2.1" fill="#f4e2cc" fill-opacity="0.35" stroke="#9b88cf" stroke-width="0.8"/>
<circle cx="257.50" cy="670.64" r="2.1" fill="#f4e2cc" fill-opacity="0.35" stroke="#9b88cf" stroke-width="0.8"/>
<circle cx="271.68" cy="667.35" r="2.1" fill="#f4e2cc" fill-opacity="0.35" stroke="#9b88cf" stroke-width="0.8"/>
<circle cx="282.31" cy="666.07" r="2.1" fill="#f4e2cc" fill-opacity="0.35" stroke="#9b88cf" stroke-width="0.8"/>
<circle cx="296.49" cy="657.96" r="2.1" fill="#f4e2cc" fill-opacity="0.35" stroke="#9b88cf" stroke-width="0.8"/>
<circle cx="307.12" cy="652.92" r="2.1" fill="#f4e2cc" fill-opacity="0.35" stroke="#9b88cf" stroke-width="0.8"/>
<circle cx="321.31" cy="640.05" r="2.1" fill="#f4e2cc" fill-opacity="0.35" stroke="#9b88cf" stroke-width="0.8"/>
<path d="M222.04,684.80 L224.04,688.30 L220.04,688.30 Z" fill="#2b3d55"/>
<path d="M232.68,680.19 L234.68,683.69 L230.68,683.69 Z" fill="#2b3d55"/>
<path d="M246.86,671.00 L248.86,674.50 L244.86,674.50 Z" fill="#2b3d55"/>
<path d="M257.50,675.26 L259.50,678.76 L255.50,678.76 Z" fill="#2b3d55"/>
<path d="M271.68,660.72 L273.68,664.22 L269.68,664.22 Z" fill="#2b3d55"/>
<path d="M282.31,653.92 L284.31,657.42 L280.31,657.42 Z" fill="#2b3d55"/>
<path d="M296.49,641.28 L298.49,644.78 L294.49,644.78 Z" fill="#2b3d55"/>
<path d="M307.12,641.28 L309.12,644.78 L305.12,644.78 Z" fill="#2b3d55"/>
<path d="M321.31,634.70 L323.31,638.20 L319.31,638.20 Z" fill="#2b3d55"/>
<path d="M222.04,684.80 L224.04,688.30 L220.04,688.30 Z" fill="#c8102e"/>
<path d="M232.68,679.69 L234.68,683.19 L230.68,683.19 Z" fill="#c8102e"/>
<path d="M246.86,681.88 L248.86,685.38 L244.86,685.38 Z" fill="#c8102e"/>
<path d="M257.50,695.26 L259.50,698.76 L255.50,698.76 Z" fill="#c8102e"/>
<path d="M271.68,715.26 L273.68,718.76 L269.68,718.76 Z" fill="#c8102e"/>
<path d="M282.31,709.24 L284.31,712.74 L280.31,712.74 Z" fill="#c8102e"/>
<path d="M296.49,708.54 L298.49,712.04 L294.49,712.04 Z" fill="#c8102e"/>
<path d="M307.12,690.82 L309.12,694.32 L305.12,694.32 Z" fill="#c8102e"/>
<path d="M321.31,676.84 L323.31,680.34 L319.31,680.34 Z" fill="#c8102e"/>
<path d="M331.94,667.90 L333.94,671.40 L329.94,671.40 Z" fill="#c8102e"/>
<path d="M346.12,653.92 L348.12,657.42 L344.12,657.42 Z" fill="#c8102e"/>
<path d="M222.04,684.80 L224.04,688.30 L220.04,688.30 Z" fill="#3fb24a"/>
<path d="M232.68,676.84 L234.68,680.34 L230.68,680.34 Z" fill="#3fb24a"/>
<path d="M246.86,660.19 L248.86,663.69 L244.86,663.69 Z" fill="#3fb24a"/>
<path d="M257.50,650.48 L259.50,653.98 L255.50,653.98 Z" fill="#3fb24a"/>
<path d="M271.68,637.95 L273.68,641.45 L269.68,641.45 Z" fill="#3fb24a"/>
<path d="M282.31,630.82 L284.31,634.32 L280.31,634.32 Z" fill="#3fb24a"/>
<rect x="220.34" y="685.20" width="3.40" height="3.40" fill="#2a4a6a" />
<rect x="230.98" y="676.26" width="3.40" height="3.40" fill="#2a4a6a" />
<rect x="245.16" y="660.09" width="3.40" height="3.40" fill="#2a4a6a" />
<rect x="255.80" y="650.39" width="3.40" height="3.40" fill="#2a4a6a" />
<rect x="269.98" y="637.60" width="3.40" height="3.40" fill="#2a4a6a" />
<rect x="280.61" y="628.94" width="3.40" height="3.40" fill="#2a4a6a" />
<rect x="220.34" y="685.20" width="3.40" height="3.40" fill="#2a9bd4" />
<rect x="230.98" y="675.66" width="3.40" height="3.40" fill="#2a9bd4" />
<rect x="245.16" y="659.18" width="3.40" height="3.40" fill="#2a9bd4" />
<rect x="255.80" y="649.64" width="3.40" height="3.40" fill="#2a9bd4" />
<rect x="269.98" y="637.24" width="3.40" height="3.40" fill="#2a9bd4" />
<rect x="280.61" y="628.30" width="3.40" height="3.40" fill="#2a9bd4" />
</g>
<rect x="389.40" y="626.30" width="64.60" height="101.00" fill="#eeeef1" />
<line x1="389.40" y1="624.90" x2="389.40" y2="727.90" stroke="#231f20" stroke-width="1.3" />
<line x1="388.80" y1="727.30" x2="518.50" y2="727.30" stroke="#231f20" stroke-width="1.3" />
<line x1="386.10" y1="627.30" x2="389.40" y2="627.30" stroke="#231f20" stroke-width="0.9" />
<text x="382.80" y="629.80" font-size="7.0" text-anchor="end" >1000</text>
<line x1="386.10" y1="647.30" x2="389.40" y2="647.30" stroke="#231f20" stroke-width="0.9" />
<text x="382.80" y="649.80" font-size="7.0" text-anchor="end" >100</text>
<line x1="386.10" y1="667.30" x2="389.40" y2="667.30" stroke="#231f20" stroke-width="0.9" />
<text x="382.80" y="669.80" font-size="7.0" text-anchor="end" >10</text>
<line x1="386.10" y1="687.30" x2="389.40" y2="687.30" stroke="#231f20" stroke-width="0.9" />
<text x="382.80" y="689.80" font-size="7.0" text-anchor="end" >1</text>
<line x1="386.10" y1="707.30" x2="389.40" y2="707.30" stroke="#231f20" stroke-width="0.9" />
<text x="382.80" y="709.80" font-size="7.0" text-anchor="end" >0.1</text>
<line x1="386.10" y1="727.30" x2="389.40" y2="727.30" stroke="#231f20" stroke-width="0.9" />
<text x="382.80" y="729.80" font-size="7.0" text-anchor="end" >0.01</text>
<line x1="402.30" y1="727.30" x2="402.30" y2="729.10" stroke="#231f20" stroke-width="0.9" />
<line x1="417.70" y1="727.30" x2="417.70" y2="730.30" stroke="#231f20" stroke-width="0.9" />
<line x1="433.10" y1="727.30" x2="433.10" y2="729.10" stroke="#231f20" stroke-width="0.9" />
<line x1="448.50" y1="727.30" x2="448.50" y2="730.30" stroke="#231f20" stroke-width="0.9" />
<line x1="463.90" y1="727.30" x2="463.90" y2="729.10" stroke="#231f20" stroke-width="0.9" />
<line x1="479.30" y1="727.30" x2="479.30" y2="730.30" stroke="#231f20" stroke-width="0.9" />
<line x1="494.70" y1="727.30" x2="494.70" y2="729.10" stroke="#231f20" stroke-width="0.9" />
<line x1="510.10" y1="727.30" x2="510.10" y2="730.30" stroke="#231f20" stroke-width="0.9" />
<text x="417.70" y="740.30" font-size="7.0" text-anchor="middle" >10</text>
<text x="448.50" y="740.30" font-size="7.0" text-anchor="middle" >20</text>
<text x="479.30" y="740.30" font-size="7.0" text-anchor="middle" >30</text>
<text x="510.10" y="740.30" font-size="7.0" text-anchor="middle" >40</text>
<text x="454.30" y="752.40" font-size="8.6" text-anchor="middle" textLength="10.80" lengthAdjust="spacingAndGlyphs" >Day</text>
<text x="360.40" y="675.80" font-size="7.0" text-anchor="middle" textLength="31.00" lengthAdjust="spacingAndGlyphs" transform="rotate(-90 360.40 675.80)" >Cells (10<tspan font-size="4.6" dy="-2.6">5</tspan><tspan dy="2.6">)</tspan></text>
<text x="453.20" y="604.60" font-size="9.0" text-anchor="middle" textLength="17.50" lengthAdjust="spacingAndGlyphs" >HEL</text>
<text x="451.50" y="615.20" font-size="7.8" text-anchor="end" textLength="30.80" lengthAdjust="spacingAndGlyphs" fill="#666" >Drug on</text>
<text x="458.40" y="615.20" font-size="7.8" textLength="31.20" lengthAdjust="spacingAndGlyphs" fill="#666" >Drug off</text>
<defs><clipPath id="c389"><rect x="386.4" y="624.3" width="135.10000000000002" height="106.0"/></clipPath></defs>
<g clip-path="url(#c389)">
<polyline points="389.98,687.30 399.22,695.26 411.54,717.76 420.78,727.30 433.10,727.30 442.34,727.30 454.66,727.30 463.90,727.30 476.22,727.30 485.46,727.30 497.78,727.30 507.02,727.30 516.26,727.30" fill="none" stroke="#d98a2a" stroke-width="1.2" stroke-linejoin="round" />
<polyline points="389.98,687.30 399.22,688.71 411.54,717.76 420.78,713.32 433.10,727.30 442.34,727.30 454.66,727.30 463.90,727.30 476.22,722.19 497.78,715.26 507.02,701.28 516.26,694.24" fill="none" stroke="#25704e" stroke-width="1.2" stroke-linejoin="round" />
<polyline points="389.98,687.30 399.22,689.24 411.54,727.30" fill="none" stroke="#b5a3dc" stroke-width="1.2" stroke-linejoin="round" />
<polyline points="389.98,687.30 399.22,688.22 411.54,721.28 420.78,717.76 433.10,717.76 442.34,727.30 454.66,727.30 463.90,727.30 476.22,719.34 485.46,703.78 497.78,690.40 507.02,673.32 516.26,661.28" fill="none" stroke="#34475f" stroke-width="1.2" stroke-linejoin="round" />
<polyline points="389.98,687.30 399.22,677.20 411.54,667.30 420.78,656.42 433.10,645.72 442.34,634.24 446.34,625.72" fill="none" stroke="#c8102e" stroke-width="1.2" stroke-linejoin="round" />
<polyline points="389.98,687.30 399.22,677.76 411.54,668.81 420.78,654.43 433.10,653.15 442.34,645.43 454.66,635.70 460.82,625.72" fill="none" stroke="#3fb24a" stroke-width="1.2" stroke-linejoin="round" />
<polyline points="389.98,687.30 399.22,676.93 411.54,663.78 420.78,649.24 433.10,637.20 439.88,625.72" fill="none" stroke="#2f4f6f" stroke-width="1.2" stroke-linejoin="round" />
<polyline points="389.98,687.30 399.22,676.67 411.54,663.44 420.78,650.03 433.10,638.84 440.49,625.72" fill="none" stroke="#4ab8e8" stroke-width="1.5" stroke-linejoin="round" />
<circle cx="389.98" cy="687.30" r="2.1" fill="#f4e2cc" fill-opacity="0.35" stroke="#c87a20" stroke-width="0.8"/>
<circle cx="399.22" cy="695.26" r="2.1" fill="#f4e2cc" fill-opacity="0.35" stroke="#c87a20" stroke-width="0.8"/>
<circle cx="411.54" cy="717.76" r="2.1" fill="#f4e2cc" fill-opacity="0.35" stroke="#c87a20" stroke-width="0.8"/>
<circle cx="420.78" cy="727.30" r="2.1" fill="#f4e2cc" fill-opacity="0.35" stroke="#c87a20" stroke-width="0.8"/>
<circle cx="433.10" cy="727.30" r="2.1" fill="#f4e2cc" fill-opacity="0.35" stroke="#c87a20" stroke-width="0.8"/>
<circle cx="442.34" cy="727.30" r="2.1" fill="#f4e2cc" fill-opacity="0.35" stroke="#c87a20" stroke-width="0.8"/>
<circle cx="454.66" cy="727.30" r="2.1" fill="#f4e2cc" fill-opacity="0.35" stroke="#c87a20" stroke-width="0.8"/>
<circle cx="463.90" cy="727.30" r="2.1" fill="#f4e2cc" fill-opacity="0.35" stroke="#c87a20" stroke-width="0.8"/>
<circle cx="476.22" cy="727.30" r="2.1" fill="#f4e2cc" fill-opacity="0.35" stroke="#c87a20" stroke-width="0.8"/>
<circle cx="485.46" cy="727.30" r="2.1" fill="#f4e2cc" fill-opacity="0.35" stroke="#c87a20" stroke-width="0.8"/>
<circle cx="497.78" cy="727.30" r="2.1" fill="#f4e2cc" fill-opacity="0.35" stroke="#c87a20" stroke-width="0.8"/>
<circle cx="507.02" cy="727.30" r="2.1" fill="#f4e2cc" fill-opacity="0.35" stroke="#c87a20" stroke-width="0.8"/>
<circle cx="516.26" cy="727.30" r="2.1" fill="#f4e2cc" fill-opacity="0.35" stroke="#c87a20" stroke-width="0.8"/>
<circle cx="389.98" cy="687.30" r="2.1" fill="#f4e2cc" fill-opacity="0.35" stroke="#1f6a48" stroke-width="0.8"/>
<circle cx="399.22" cy="688.71" r="2.1" fill="#f4e2cc" fill-opacity="0.35" stroke="#1f6a48" stroke-width="0.8"/>
<circle cx="411.54" cy="717.76" r="2.1" fill="#f4e2cc" fill-opacity="0.35" stroke="#1f6a48" stroke-width="0.8"/>
<circle cx="420.78" cy="713.32" r="2.1" fill="#f4e2cc" fill-opacity="0.35" stroke="#1f6a48" stroke-width="0.8"/>
<circle cx="433.10" cy="727.30" r="2.1" fill="#f4e2cc" fill-opacity="0.35" stroke="#1f6a48" stroke-width="0.8"/>
<circle cx="442.34" cy="727.30" r="2.1" fill="#f4e2cc" fill-opacity="0.35" stroke="#1f6a48" stroke-width="0.8"/>
<circle cx="454.66" cy="727.30" r="2.1" fill="#f4e2cc" fill-opacity="0.35" stroke="#1f6a48" stroke-width="0.8"/>
<circle cx="463.90" cy="727.30" r="2.1" fill="#f4e2cc" fill-opacity="0.35" stroke="#1f6a48" stroke-width="0.8"/>
<circle cx="476.22" cy="722.19" r="2.1" fill="#f4e2cc" fill-opacity="0.35" stroke="#1f6a48" stroke-width="0.8"/>
<circle cx="497.78" cy="715.26" r="2.1" fill="#f4e2cc" fill-opacity="0.35" stroke="#1f6a48" stroke-width="0.8"/>
<circle cx="507.02" cy="701.28" r="2.1" fill="#f4e2cc" fill-opacity="0.35" stroke="#1f6a48" stroke-width="0.8"/>
<circle cx="516.26" cy="694.24" r="2.1" fill="#f4e2cc" fill-opacity="0.35" stroke="#1f6a48" stroke-width="0.8"/>
<circle cx="389.98" cy="687.30" r="2.1" fill="#f4e2cc" fill-opacity="0.35" stroke="#9b88cf" stroke-width="0.8"/>
<circle cx="399.22" cy="689.24" r="2.1" fill="#f4e2cc" fill-opacity="0.35" stroke="#9b88cf" stroke-width="0.8"/>
<circle cx="411.54" cy="727.30" r="2.1" fill="#f4e2cc" fill-opacity="0.35" stroke="#9b88cf" stroke-width="0.8"/>
<path d="M389.98,685.20 L391.98,688.70 L387.98,688.70 Z" fill="#2b3d55"/>
<path d="M399.22,686.12 L401.22,689.62 L397.22,689.62 Z" fill="#2b3d55"/>
<path d="M411.54,719.18 L413.54,722.68 L409.54,722.68 Z" fill="#2b3d55"/>
<path d="M420.78,715.66 L422.78,719.16 L418.78,719.16 Z" fill="#2b3d55"/>
<path d="M433.10,715.66 L435.10,719.16 L431.10,719.16 Z" fill="#2b3d55"/>
<path d="M442.34,725.20 L444.34,728.70 L440.34,728.70 Z" fill="#2b3d55"/>
<path d="M454.66,725.20 L456.66,728.70 L452.66,728.70 Z" fill="#2b3d55"/>
<path d="M463.90,725.20 L465.90,728.70 L461.90,728.70 Z" fill="#2b3d55"/>
<path d="M476.22,717.24 L478.22,720.74 L474.22,720.74 Z" fill="#2b3d55"/>
<path d="M485.46,701.68 L487.46,705.18 L483.46,705.18 Z" fill="#2b3d55"/>
<path d="M497.78,688.30 L499.78,691.80 L495.78,691.80 Z" fill="#2b3d55"/>
<path d="M507.02,671.22 L509.02,674.72 L505.02,674.72 Z" fill="#2b3d55"/>
<path d="M516.26,659.18 L518.26,662.68 L514.26,662.68 Z" fill="#2b3d55"/>
<path d="M389.98,685.20 L391.98,688.70 L387.98,688.70 Z" fill="#c8102e"/>
<path d="M399.22,675.10 L401.22,678.60 L397.22,678.60 Z" fill="#c8102e"/>
<path d="M411.54,665.20 L413.54,668.70 L409.54,668.70 Z" fill="#c8102e"/>
<path d="M420.78,654.32 L422.78,657.82 L418.78,657.82 Z" fill="#c8102e"/>
<path d="M433.10,643.62 L435.10,647.12 L431.10,647.12 Z" fill="#c8102e"/>
<path d="M442.34,632.14 L444.34,635.64 L440.34,635.64 Z" fill="#c8102e"/>
<path d="M389.98,685.20 L391.98,688.70 L387.98,688.70 Z" fill="#3fb24a"/>
<path d="M399.22,675.66 L401.22,679.16 L397.22,679.16 Z" fill="#3fb24a"/>
<path d="M411.54,666.71 L413.54,670.21 L409.54,670.21 Z" fill="#3fb24a"/>
<path d="M420.78,652.33 L422.78,655.83 L418.78,655.83 Z" fill="#3fb24a"/>
<path d="M433.10,651.05 L435.10,654.55 L431.10,654.55 Z" fill="#3fb24a"/>
<path d="M442.34,643.33 L444.34,646.83 L440.34,646.83 Z" fill="#3fb24a"/>
<path d="M454.66,633.60 L456.66,637.10 L452.66,637.10 Z" fill="#3fb24a"/>
<rect x="388.28" y="685.60" width="3.40" height="3.40" fill="#2a4a6a" />
<rect x="397.52" y="675.23" width="3.40" height="3.40" fill="#2a4a6a" />
<rect x="409.84" y="662.08" width="3.40" height="3.40" fill="#2a4a6a" />
<rect x="419.08" y="647.54" width="3.40" height="3.40" fill="#2a4a6a" />
<rect x="431.40" y="635.50" width="3.40" height="3.40" fill="#2a4a6a" />
<rect x="388.28" y="685.60" width="3.40" height="3.40" fill="#2a9bd4" />
<rect x="397.52" y="674.97" width="3.40" height="3.40" fill="#2a9bd4" />
<rect x="409.84" y="661.74" width="3.40" height="3.40" fill="#2a9bd4" />
<rect x="419.08" y="648.33" width="3.40" height="3.40" fill="#2a9bd4" />
<rect x="431.40" y="637.14" width="3.40" height="3.40" fill="#2a9bd4" />
</g>
<line x1="113.00" y1="765.00" x2="124.50" y2="765.00" stroke="#4ab8e8" stroke-width="1.2" />
<rect x="117.05" y="763.30" width="3.40" height="3.40" fill="#2a9bd4" />
<text x="130.50" y="767.50" font-size="7.2" textLength="28.50" lengthAdjust="spacingAndGlyphs" >Control</text>
<line x1="113.00" y1="776.30" x2="124.50" y2="776.30" stroke="#2f4f6f" stroke-width="1.2" />
<rect x="117.05" y="774.60" width="3.40" height="3.40" fill="#2a4a6a" />
<text x="130.50" y="778.80" font-size="7.2" textLength="62.50" lengthAdjust="spacingAndGlyphs" >A-1331852 (50 nM)</text>
<line x1="211.30" y1="765.20" x2="222.80" y2="765.20" stroke="#c8102e" stroke-width="1.2" />
<path d="M217.05,763.10 L219.05,766.60 L215.05,766.60 Z" fill="#c8102e"/>
<text x="228.80" y="767.70" font-size="7.2" textLength="64.60" lengthAdjust="spacingAndGlyphs" >Ruxolitinib (300 nM)</text>
<line x1="211.30" y1="776.20" x2="222.80" y2="776.20" stroke="#3fb24a" stroke-width="1.2" />
<path d="M217.05,774.10 L219.05,777.60 L215.05,777.60 Z" fill="#3fb24a"/>
<text x="228.80" y="778.70" font-size="7.2" textLength="66.00" lengthAdjust="spacingAndGlyphs" >Azacitidine (500 nM)</text>
<line x1="211.30" y1="787.30" x2="222.80" y2="787.30" stroke="#34475f" stroke-width="1.2" />
<path d="M217.05,785.20 L219.05,788.70 L215.05,788.70 Z" fill="#2b3d55"/>
<text x="228.80" y="789.80" font-size="7.2" textLength="64.60" lengthAdjust="spacingAndGlyphs" >Venetoclax (300 nM)</text>
<line x1="306.50" y1="765.20" x2="318.00" y2="765.20" stroke="#d98a2a" stroke-width="1.2" />
<circle cx="312.25" cy="765.20" r="2.1" fill="#f4e2cc" fill-opacity="0.35" stroke="#c87a20" stroke-width="0.8"/>
<text x="326.00" y="767.70" font-size="7.2" textLength="136.70" lengthAdjust="spacingAndGlyphs" >A-1331852 (50 nM) + Ruxolitinib (300 nM)</text>
<line x1="306.50" y1="776.20" x2="318.00" y2="776.20" stroke="#b5a3dc" stroke-width="1.2" />
<circle cx="312.25" cy="776.20" r="2.1" fill="#f4e2cc" fill-opacity="0.35" stroke="#9b88cf" stroke-width="0.8"/>
<text x="326.00" y="778.70" font-size="7.2" textLength="136.70" lengthAdjust="spacingAndGlyphs" >A-1331852 (50 nM) + Azacitidine (500 nM)</text>
<line x1="306.50" y1="787.30" x2="318.00" y2="787.30" stroke="#25704e" stroke-width="1.2" />
<circle cx="312.25" cy="787.30" r="2.1" fill="#f4e2cc" fill-opacity="0.35" stroke="#1f6a48" stroke-width="0.8"/>
<text x="326.00" y="789.80" font-size="7.2" textLength="136.70" lengthAdjust="spacingAndGlyphs" >A-1338152 (50 nM) + Venetoclax ( 300 nM)</text>
</svg>
</body></html>
